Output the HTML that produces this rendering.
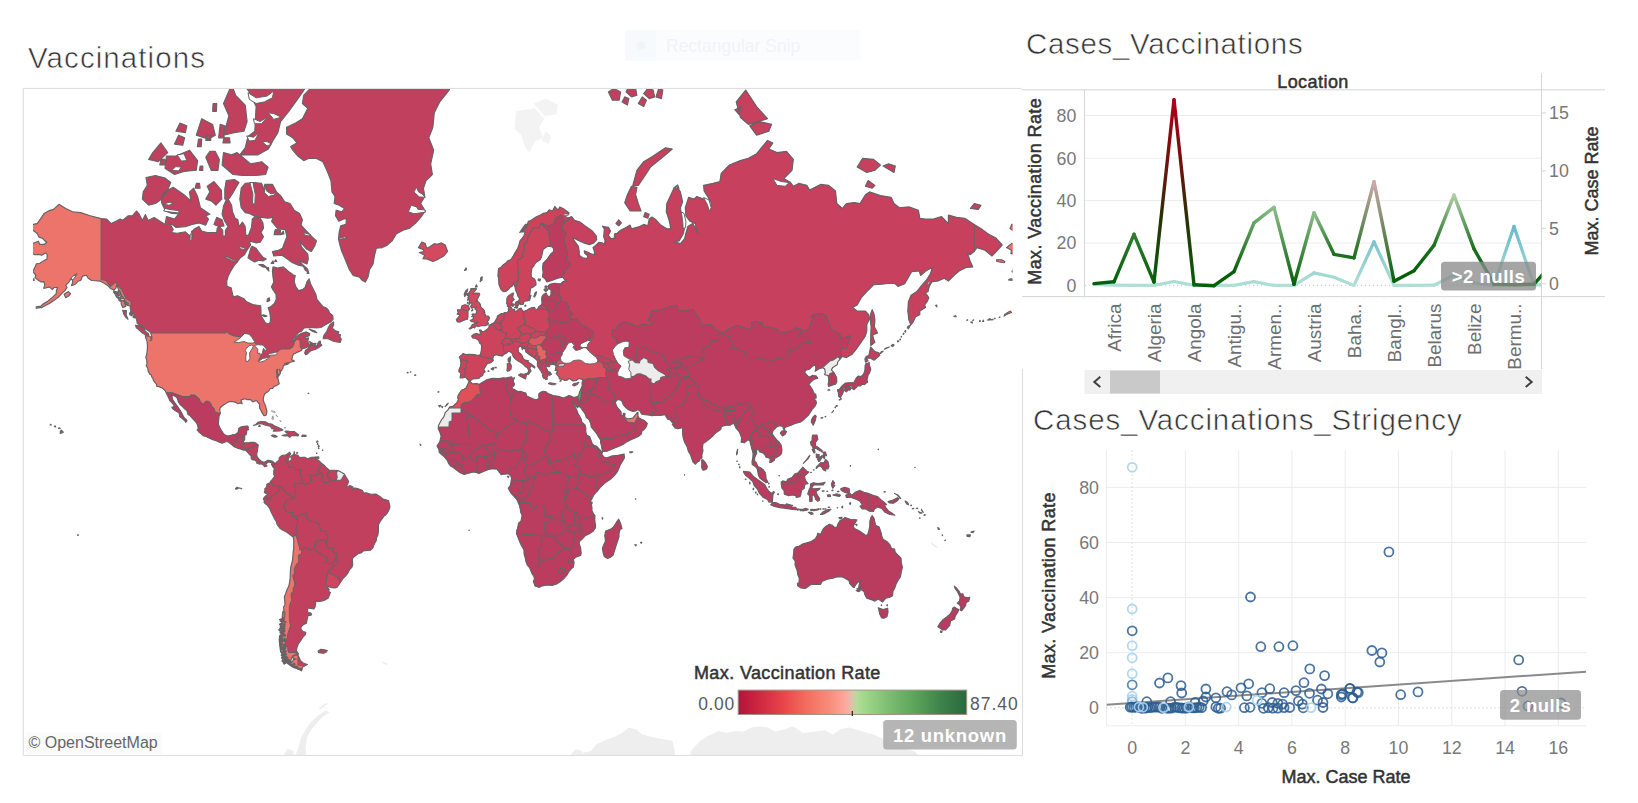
<!DOCTYPE html><html><head><meta charset="utf-8"><title>Dashboard</title><style>html,body{margin:0;padding:0;background:#fff;width:1638px;height:803px;overflow:hidden}</style></head><body><svg width="1638" height="803" viewBox="0 0 1638 803" style="display:block"><rect width="100%" height="100%" fill="#fff"/><defs><clipPath id="mapclip"><rect x="23.8" y="88.9" width="997.7" height="666.4"/></clipPath></defs><g clip-path="url(#mapclip)"><defs><clipPath id="landclip"><rect x="33" y="80" width="979.3" height="690"/></clipPath></defs><g clip-path="url(#landclip)"><path d="M514.5 128.5L521.3 135.2L525.4 147.8L529.5 152.6L534.9 141.6L543.1 137.8L539.0 127.2L544.4 118.7L534.9 108.2L525.4 109.7L515.9 111.3ZM533.6 103.5L544.4 115.8L556.7 114.3L558.0 105.1L545.8 98.6ZM541.7 140.4L548.5 144.1L551.2 136.5L545.8 131.2Z" fill="#f3f3f3" stroke="none"/><path d="M325.5 710.5L317.3 716.0L310.5 722.4L305.6 729.7L301.0 738.0L298.3 747.5L294.2 759.2L306.4 759.2L305.6 747.5L307.0 738.0L311.1 729.7L317.3 722.4L322.8 716.6L329.6 712.3ZM280.6 760.8L287.4 749.0L292.8 750.5L295.6 760.8ZM568.9 760.8L571.6 753.6L575.7 749.0L582.5 751.3L582.5 752.8L590.7 751.3L596.1 744.5L607.0 739.4L615.2 736.6L622.0 733.1L628.8 727.6L636.9 729.7L642.4 734.5L653.2 737.3L664.1 739.4L672.3 740.8L674.5 749.0L675.5 760.8L689.4 760.8L690.8 751.3L695.4 746.0L699.5 741.6L707.6 735.9L718.5 731.0L726.7 733.1L734.8 731.0L743.0 731.7L751.2 727.6L759.3 726.3L767.5 727.6L775.6 731.7L785.2 729.0L793.3 726.3L802.8 733.1L813.7 731.7L824.6 730.3L832.8 734.5L840.9 729.0L849.1 727.6L857.2 729.7L865.4 732.4L873.6 734.5L881.7 738.0L889.9 743.8L898.0 746.0L906.2 749.0L914.4 751.3L922.5 759.2L928.0 763.2L928.0 773.5L568.9 773.5ZM49.4 773.5L76.6 773.5L103.8 773.5L139.2 773.5L158.2 773.5L185.4 773.5L212.6 773.5L207.2 769.1L218.0 771.7L223.5 773.5ZM318.7 708.1L326.8 702.8L327.7 703.9L320.6 709.3Z" fill="#eeeeee" stroke="none"/><defs><path id="landp" d="M58.9 204.3L65.7 208.5L72.5 211.8L80.7 212.6L90.2 215.8L101.1 218.6L106.5 219.0L111.1 223.6L116.0 221.3L120.1 219.0L122.8 220.2L128.3 215.8L132.4 215.8L136.4 211.0L139.2 214.2L142.4 220.5L145.4 214.6L148.1 220.5L154.1 217.4L163.6 223.6L170.4 224.4L173.2 229.6L171.3 232.5L177.2 233.2L185.4 231.8L189.2 235.3L190.8 239.5L192.7 236.0L191.4 231.8L194.9 228.8L199.0 226.6L201.7 231.0L207.2 232.5L212.6 232.5L216.7 232.5L217.2 228.1L219.9 227.0L222.7 230.3L222.9 236.0L225.4 236.0L225.4 230.3L228.1 226.6L224.8 221.3L222.1 214.2L223.5 206.0L226.2 200.0L228.1 199.1L231.6 205.2L232.5 211.8L235.2 218.2L237.9 219.8L239.0 226.6L242.5 222.1L245.2 226.6L245.8 235.3L248.5 235.3L251.5 227.4L252.3 219.0L254.8 217.0L260.2 218.2L262.9 222.9L263.5 228.1L261.0 232.5L263.5 236.7L260.2 242.3L256.1 242.9L252.0 241.6L249.3 241.6L250.7 245.0L247.4 249.6L244.4 254.7L240.3 257.8L237.6 261.5L234.4 265.1L231.1 270.4L228.4 275.5L226.7 281.1L227.0 286.4L231.1 287.7L232.7 294.7L233.5 296.7L237.6 295.7L243.9 298.7L246.3 301.6L252.6 304.5L260.7 305.7L261.0 311.1L261.0 315.7L263.2 319.3L265.4 322.8L268.1 324.1L270.3 322.3L270.5 317.9L269.7 312.0L268.1 307.8L271.1 306.4L274.6 303.1L276.2 299.2L276.0 294.2L273.5 290.6L271.4 286.9L273.8 282.1L273.0 277.2L272.4 271.0L273.0 266.9L277.9 268.1L283.3 266.9L288.8 271.6L293.4 275.0L295.3 275.5L294.2 281.1L295.6 286.4L298.6 290.6L302.4 289.6L305.1 287.5L307.0 281.6L309.2 278.9L310.5 283.8L313.2 289.0L316.0 294.7L316.8 299.2L320.0 303.1L322.8 306.4L326.8 308.3L328.7 310.6L329.6 312.9L332.8 315.7L333.1 319.3L330.9 321.9L329.0 322.8L324.1 325.4L320.9 327.5L316.5 327.9L310.5 327.5L304.0 327.9L301.5 331.3L298.6 332.6L295.0 336.5L292.6 340.3L290.9 341.9L294.2 340.3L295.6 337.7L298.3 335.2L301.0 333.6L306.4 331.9L309.7 333.4L309.4 335.5L306.4 336.9L304.3 336.9L305.9 338.7L308.6 337.9L307.8 341.1L308.6 343.9L311.1 344.7L313.2 345.8L316.0 345.6L317.6 346.4L317.3 344.3L319.0 341.5L320.3 341.1L320.6 343.9L321.9 345.1L319.0 347.4L316.0 349.1L311.6 350.5L309.7 351.6L307.0 354.3L305.6 354.6L304.7 353.1L305.4 350.5L308.3 348.2L309.4 346.2L307.3 347.0L304.9 348.2L302.4 348.8L301.3 350.5L298.8 351.6L296.9 352.4L293.7 354.1L292.3 356.3L292.3 358.0L291.5 359.1L292.6 360.4L293.9 360.2L294.2 361.5L292.3 361.8L290.4 362.2L288.8 362.7L286.3 362.9L284.4 363.8L286.9 364.0L289.0 363.6L287.1 364.5L284.1 365.3L283.3 365.8L282.8 368.5L280.9 371.1L279.2 369.3L280.3 371.6L280.3 373.4L279.2 375.1L277.9 377.5L278.2 374.8L277.1 372.0L277.6 369.2L276.5 370.2L276.5 372.7L277.1 374.8L276.8 377.2L277.9 378.2L278.4 380.5L279.2 383.7L276.5 385.6L274.3 386.2L272.6 388.4L270.0 388.8L268.9 390.8L267.3 392.1L264.8 393.7L264.0 395.6L263.2 398.8L263.5 401.0L264.3 403.2L265.5 405.5L266.2 408.5L266.9 410.9L266.6 413.8L265.8 415.4L264.0 415.6L262.2 413.2L261.4 411.2L259.9 408.8L259.4 407.2L259.8 404.1L258.7 403.4L257.2 401.3L255.8 400.4L253.4 401.8L252.3 401.6L251.5 400.2L249.3 399.4L247.1 399.7L245.2 398.8L242.8 399.4L240.9 400.1L241.4 401.3L242.0 402.9L242.0 403.8L240.3 402.9L239.3 403.5L237.4 403.7L236.0 402.4L234.1 401.9L231.6 401.5L229.3 401.6L226.7 402.9L225.1 404.1L222.4 405.8L220.2 407.8L219.7 410.0L220.4 413.2L219.1 416.0L218.7 419.6L218.4 424.2L219.9 427.9L221.3 430.2L223.2 433.1L224.2 434.4L227.6 436.1L231.1 435.2L232.6 434.8L234.9 434.8L237.8 432.8L238.4 431.0L238.7 428.4L240.8 427.0L243.9 426.3L247.7 426.1L248.5 427.4L246.9 430.2L246.6 432.2L246.1 434.8L244.7 435.2L244.7 437.9L244.6 439.7L243.1 441.9L243.6 442.9L245.2 442.8L248.5 442.8L250.7 442.3L253.7 442.3L255.6 442.9L258.3 445.0L257.8 447.7L257.5 450.6L256.8 453.4L256.9 456.3L258.8 459.0L261.0 460.9L262.4 461.7L264.3 462.3L266.2 461.3L267.8 460.2L270.0 460.5L272.4 461.2L274.2 462.7L272.7 466.7L271.4 464.3L272.2 463.5L270.8 462.5L268.4 461.9L267.3 462.8L265.9 463.9L265.9 464.9L267.0 466.0L265.8 466.5L264.6 466.7L263.7 465.3L262.4 464.6L260.7 463.6L259.1 464.3L258.4 463.0L256.9 463.4L256.8 462.3L255.7 460.6L254.4 459.9L253.7 459.1L253.1 460.1L251.8 459.2L251.1 457.9L251.2 456.2L249.3 454.0L247.4 452.0L246.1 450.9L246.9 449.8L245.6 450.1L243.6 450.1L240.2 449.0L237.6 448.1L234.6 447.0L232.7 445.6L229.7 443.1L227.6 441.6L225.7 441.8L222.1 443.2L219.4 442.2L216.1 440.8L212.9 439.8L208.5 437.7L206.6 436.7L203.1 435.7L200.6 433.4L199.0 432.2L197.1 429.6L198.3 428.9L197.9 426.4L196.8 423.2L195.2 421.4L191.9 417.8L189.8 415.4L187.8 414.2L187.0 410.9L184.6 408.8L183.0 407.2L180.0 404.4L178.3 401.6L177.2 398.2L175.6 396.6L172.3 395.0L172.1 397.5L172.9 400.1L175.6 403.8L177.8 406.9L179.3 409.1L180.5 410.9L181.7 413.0L183.5 416.6L184.6 418.4L185.9 419.0L187.0 420.8L185.7 422.3L184.6 420.5L181.3 417.8L179.7 416.6L179.4 413.6L177.8 412.1L175.3 410.7L173.2 409.1L171.8 407.4L174.2 406.6L173.7 404.8L171.8 402.6L169.8 400.7L169.1 398.8L167.3 395.0L166.1 392.7L165.5 391.1L163.1 388.7L162.0 387.9L160.4 387.4L159.0 386.5L156.8 386.4L156.4 384.2L154.7 382.2L153.0 379.7L153.2 378.5L151.7 376.8L151.4 375.1L150.0 374.4L148.1 371.1L147.9 368.5L146.2 365.8L147.0 363.8L146.8 360.6L145.8 357.1L146.8 354.3L147.2 350.3L147.5 346.6L147.3 343.9L147.0 341.1L145.6 337.5L145.4 335.5L148.7 336.5L150.7 336.7L151.4 339.9L150.3 340.7L151.7 339.9L151.9 337.1L151.1 333.8L149.8 331.7L147.3 330.1L145.1 328.8L143.2 326.7L139.7 324.9L137.3 323.6L136.7 320.1L135.4 316.6L133.2 313.4L131.0 311.1L130.2 308.3L130.7 306.4L128.3 305.5L125.8 303.1L124.5 299.2L121.8 296.2L120.4 292.1L118.8 290.1L116.6 284.8L116.0 288.0L113.9 290.1L110.6 288.5L107.6 285.4L104.6 283.5L100.0 281.1L95.6 280.8L91.6 280.5L88.2 278.3L86.4 275.3L82.6 276.1L80.7 280.5L78.0 281.3L75.2 284.3L71.4 285.6L72.5 282.7L72.8 277.8L75.2 275.0L76.9 273.8L73.9 275.5L71.2 278.3L69.0 282.1L65.7 285.4L67.1 287.5L64.9 290.6L61.6 293.7L58.9 296.7L53.8 300.6L49.4 303.6L44.5 305.9L41.2 307.8L39.9 306.9L43.1 304.0L47.2 301.6L52.7 297.2L56.2 293.7L56.5 290.1L57.6 287.5L54.0 287.5L52.4 289.6L49.4 286.9L45.9 288.0L43.6 288.3L44.8 285.4L44.0 281.6L41.2 281.9L37.2 279.4L35.0 277.8L35.8 275.0L32.8 271.6L35.0 266.9L36.3 263.9L39.9 263.3L43.4 260.9L47.0 259.1L47.2 254.7L45.9 252.8L41.8 255.3L38.5 254.4L34.7 254.7L31.7 253.4L32.3 250.2L27.4 247.6L32.3 243.6L38.5 241.2L39.6 244.3L44.5 244.3L46.7 242.3L44.2 240.2L42.3 238.1L39.3 237.4L36.9 233.2L30.9 228.5L32.5 224.4L37.2 223.6L41.2 217.8L44.2 213.4L49.4 210.6L53.5 209.4ZM274.2 462.7L275.6 464.5L275.8 462.8L277.3 461.4L279.0 460.1L279.2 457.9L281.0 456.1L282.8 455.4L286.3 454.7L289.7 452.2L290.7 454.0L289.0 455.4L289.8 456.5L291.5 455.9L293.4 454.5L294.2 452.9L294.9 454.5L298.0 455.4L299.6 457.6L302.5 457.3L304.9 457.3L307.3 458.7L309.4 458.1L311.6 457.2L316.2 457.0L314.3 458.4L317.0 459.5L319.2 460.9L321.4 463.1L324.7 465.8L326.4 467.8L329.0 470.0L334.5 470.2L338.0 470.6L342.3 472.8L344.5 474.3L345.9 476.8L348.6 481.4L347.5 484.7L345.7 486.3L347.8 486.8L350.0 485.5L353.0 487.1L352.7 490.1L354.3 488.1L356.8 488.2L359.5 489.3L362.2 490.4L363.8 493.1L366.3 492.8L370.9 494.2L375.8 494.1L379.9 496.4L383.1 499.1L386.7 500.1L388.6 500.5L388.9 502.1L389.9 505.8L389.7 508.3L387.5 512.7L385.6 515.0L383.8 516.3L381.8 519.2L379.9 522.0L378.5 524.8L378.4 529.3L378.4 531.7L377.8 535.4L376.6 537.5L376.3 540.8L375.0 542.7L373.2 546.5L373.1 547.7L370.4 550.3L367.1 550.5L363.3 550.9L361.1 553.0L358.7 553.4L355.4 555.7L352.7 558.1L352.4 560.2L352.7 564.5L352.0 567.2L349.4 569.9L347.8 573.2L345.3 576.3L342.9 578.7L339.4 583.9L337.3 586.9L335.1 587.9L331.7 587.7L327.2 586.2L325.6 584.6L325.9 586.7L328.2 588.0L329.2 589.5L328.6 591.4L330.4 592.6L328.1 598.2L324.8 600.1L321.4 601.1L317.3 601.7L315.1 601.0L315.7 603.4L315.1 607.0L313.8 609.0L310.5 608.4L307.8 607.9L307.5 610.6L308.1 612.8L310.5 612.8L311.6 614.2L310.8 615.5L308.1 615.4L307.7 617.2L307.0 620.2L306.4 623.3L303.7 624.4L301.0 627.0L301.0 629.3L302.9 631.5L305.8 632.3L305.4 634.5L302.4 638.0L300.5 640.9L298.3 643.8L296.9 647.7L296.4 650.7L298.6 654.0L295.6 654.7L293.1 655.6L291.8 657.6L290.7 661.0L287.4 659.2L285.0 656.9L282.8 655.1L280.6 651.6L279.8 645.9L279.2 639.6L279.8 635.5L282.0 633.9L280.6 631.5L278.8 629.9L280.9 626.8L281.7 622.1L282.0 618.3L282.5 616.8L283.0 612.4L283.9 610.9L283.6 607.0L285.0 604.7L284.7 599.9L284.3 596.8L285.6 593.9L286.6 590.7L288.8 586.1L289.7 581.6L290.1 578.3L290.4 571.7L290.7 567.2L291.9 562.8L292.4 560.6L292.8 557.8L293.1 552.5L293.7 548.0L293.8 542.4L293.4 537.4L290.5 535.1L286.9 532.2L282.6 530.0L280.2 528.6L277.1 524.5L276.5 522.0L274.8 519.3L273.5 516.7L271.9 513.6L270.8 511.2L269.7 508.4L268.2 506.5L267.1 505.0L264.8 503.2L263.9 502.1L264.7 501.6L264.0 500.2L263.4 499.0L264.1 497.5L265.8 495.8L267.0 495.0L267.3 492.8L265.9 493.5L264.3 492.3L265.0 490.4L264.7 489.0L265.9 487.9L266.9 486.1L266.7 484.5L268.0 483.6L270.1 482.8L270.4 481.4L272.4 479.4L274.9 475.7L273.8 474.9L273.7 471.3L274.1 469.4L274.2 468.0L272.7 466.7ZM298.0 655.3L299.1 657.4L300.5 660.6L303.7 663.4L307.4 664.5L303.7 666.4L302.4 667.6L301.5 670.9L298.8 669.0L295.6 668.3L292.8 667.1L288.8 664.3L285.2 661.5L282.0 656.9L284.4 656.5L287.1 659.7L290.1 662.0L292.6 661.5L293.4 659.2L296.1 659.2L293.1 658.3L293.1 656.0L296.1 654.9ZM318.1 651.1L320.6 649.4L323.3 649.6L327.4 650.5L325.8 652.5L323.6 653.3L320.6 652.9L318.7 652.7ZM365.2 282.1L361.7 280.0L359.5 277.2L353.2 275.5L349.4 269.8L347.0 263.9L344.0 256.6L341.8 251.5L339.9 245.0L338.5 238.8L339.1 232.5L340.7 225.9L345.9 224.4L346.4 219.0L343.7 219.0L338.8 221.3L335.5 215.8L336.1 210.2L341.8 211.8L344.5 208.5L339.1 205.2L334.2 203.5L335.0 196.5L332.0 191.9L330.9 180.5L326.8 170.3L322.8 161.7L316.0 158.3L309.2 158.3L303.7 160.6L297.7 156.0L292.8 150.2L290.7 146.6L296.9 142.9L292.8 137.8L286.6 133.9L286.6 127.2L295.6 123.0L302.4 118.7L307.8 108.2L302.4 103.5L303.7 95.3L311.9 86.6L318.7 71.7L343.2 61.6L370.4 44.0L397.6 36.8L419.3 55.2L430.2 71.7L452.0 81.2L449.2 90.1L439.7 101.9L434.3 112.8L432.9 127.2L428.8 137.8L433.7 150.2L430.7 163.9L432.4 174.5L426.1 180.5L423.4 188.2L424.8 196.5L420.7 203.5L425.3 211.0L420.7 217.4L415.2 223.6L409.8 228.1L403.0 230.3L396.2 233.9L392.1 240.9L386.7 245.6L382.3 247.6L376.3 248.3L374.4 256.0L373.1 263.9L369.5 269.8L368.2 276.7ZM422.9 258.8L427.5 259.1L432.9 261.5L438.4 259.1L443.8 256.0L447.6 251.5L445.2 245.0L441.6 242.9L437.0 244.3L434.3 243.6L429.4 247.0L426.7 248.3L425.3 243.6L422.0 241.9L418.5 247.6L423.4 249.6L423.9 251.5L419.3 252.5L424.8 255.3L422.9 258.8ZM308.6 272.1L305.4 270.4L303.4 266.3L298.3 265.1L291.5 262.1L287.4 259.1L282.0 255.3L273.8 256.0L272.4 251.5L278.4 250.2L282.5 248.3L284.4 242.9L286.9 236.7L285.2 229.6L277.9 228.8L271.6 221.3L273.3 217.4L267.8 218.2L261.6 217.4L254.8 216.2L249.3 213.4L245.2 212.6L241.2 207.7L239.8 199.1L241.2 188.2L245.2 183.4L253.4 182.5L261.6 183.4L264.3 190.1L268.4 193.8L264.8 184.4L272.4 184.4L276.5 191.9L280.6 195.6L284.7 201.7L290.1 203.5L294.2 210.2L299.6 213.4L302.4 219.8L301.0 225.1L306.4 231.0L311.9 236.7L316.5 240.9L314.6 246.3L311.3 251.5L306.4 248.9L301.0 242.9L299.6 240.9L301.5 247.0L307.8 254.1L308.3 259.1L307.0 263.9L302.4 262.1L298.0 259.4L302.4 264.5L307.3 268.7ZM252.0 246.3L256.1 248.3L258.8 252.2L262.9 257.2L266.2 259.1L262.9 260.9L258.8 260.3L254.8 262.1L250.7 259.7L248.0 257.8L249.3 253.4L250.7 248.3ZM165.5 211.0L171.8 213.4L178.6 213.8L174.5 219.0L166.4 216.6L165.3 223.6L171.8 224.4L175.9 227.4L185.4 226.6L192.2 224.4L199.0 222.9L205.8 225.1L208.5 219.0L205.8 215.8L209.9 214.2L200.4 207.7L197.6 196.5L193.6 188.2L189.5 191.9L190.8 200.9L184.0 194.7L178.6 191.0L173.2 187.3L166.4 191.0L162.3 194.7L161.5 202.6ZM142.4 199.1L148.7 205.2L155.5 203.5L160.4 200.0L167.7 190.1L170.7 182.5L165.0 178.0L155.5 175.5L146.0 177.5L147.3 185.4L143.2 191.9ZM205.8 199.1L211.2 200.9L215.9 205.2L221.8 199.1L221.3 190.1L214.0 181.5L207.2 186.3L209.9 191.9ZM224.8 199.1L229.5 198.2L233.0 192.8L239.0 182.5L234.4 179.5L226.2 180.5L224.8 189.1ZM214.0 224.4L218.6 226.6L224.0 225.9L222.1 219.8L216.7 217.4ZM222.1 165.0L233.0 174.5L242.5 175.5L256.1 175.5L265.6 174.5L268.1 167.1L261.6 161.7L250.7 163.9L241.2 156.0L237.1 152.6L231.6 154.9L223.5 152.6ZM205.8 157.2L211.2 170.3L218.0 170.3L219.4 159.4L215.3 151.4L209.9 151.4ZM165.0 168.2L174.5 174.5L184.0 171.4L196.3 170.3L197.6 160.6L189.5 150.2L181.3 153.7L175.9 156.0L166.4 156.0ZM148.7 159.4L158.2 161.7L167.7 152.6L160.9 142.9L152.8 152.6ZM223.5 135.2L234.4 132.6L243.9 131.2L247.1 121.6L245.2 105.1L235.7 95.3L231.6 84.8L223.5 103.5L228.9 115.8ZM239.8 154.9L248.0 154.9L257.5 154.9L268.4 149.0L273.0 140.4L277.9 132.6L280.6 121.6L288.8 111.3L296.9 100.2L305.1 88.4L316.0 67.7L307.8 50.8L272.4 46.3L245.2 61.6L239.8 79.3L249.3 91.9L256.1 106.6L255.3 121.6L254.8 131.2L248.0 136.5L245.2 147.8ZM196.3 135.2L208.5 139.1L215.3 135.2L212.6 124.4L201.7 118.7ZM323.3 338.7L328.2 338.7L332.3 340.7L334.2 341.5L337.2 341.9L340.2 342.5L341.3 339.1L339.9 337.1L340.4 334.6L338.0 334.2L338.8 331.7L335.5 330.9L333.4 329.2L332.3 327.9L333.6 324.9L333.6 321.9L330.1 324.5L328.2 327.9L326.8 331.3L324.1 335.0L323.3 337.5ZM309.4 341.5L313.2 343.5L316.0 343.3L314.6 345.1L311.1 344.3ZM309.2 329.2L314.6 330.7L316.8 332.6L313.2 331.7ZM135.4 325.4L139.2 325.8L143.2 327.9L145.1 330.9L148.4 333.8L149.0 335.5L145.4 334.8L142.4 333.0L139.7 330.5L136.4 327.9ZM122.6 310.2L126.4 310.6L126.1 314.8L128.0 319.3L125.6 317.0L123.7 313.9ZM64.1 294.2L68.4 291.6L70.6 293.7L69.0 295.7L65.7 297.7ZM121.2 300.2L124.2 301.6L125.8 306.4L122.8 307.4L121.2 304.0ZM113.6 291.1L117.4 292.1L118.5 298.7L116.3 296.7ZM36.1 308.3L40.2 307.8L39.6 306.4L36.3 306.7ZM27.9 314.3L32.3 312.5L31.2 311.1L27.6 312.9ZM29.3 280.0L34.2 280.5L33.9 278.9L30.9 278.9ZM17.6 261.5L24.9 262.7L25.7 261.5L22.2 259.7L17.3 259.7ZM261.6 315.2L265.1 316.6L267.0 316.1L263.5 314.8ZM258.8 264.5L262.9 266.9L267.0 267.5L262.9 264.5ZM266.2 268.1L268.9 271.0L268.4 267.5ZM253.5 425.4L255.3 424.9L257.8 422.4L261.0 421.5L265.4 421.7L268.4 423.5L271.6 424.1L274.6 426.0L277.9 427.4L280.9 428.7L282.9 430.0L279.8 431.0L273.3 431.2L274.8 429.3L271.9 428.7L270.3 426.3L266.2 425.5L262.9 424.3L259.4 423.5L256.4 424.8ZM282.1 435.5L285.0 435.9L287.9 435.9L289.6 437.2L291.5 435.8L294.2 435.4L298.0 435.9L298.7 434.7L296.4 433.1L294.2 431.6L289.6 431.3L286.6 431.0L285.0 431.6L286.6 432.8L287.7 434.8L284.7 434.9ZM271.5 435.7L274.6 437.2L277.3 436.8L275.4 435.4L272.7 435.1ZM301.8 436.5L305.9 436.5L306.0 435.4L302.1 435.1ZM316.2 458.7L318.7 458.5L318.8 456.7L316.5 457.0ZM174.5 144.1L182.7 145.3L184.6 137.8L178.6 135.2ZM175.9 131.2L185.4 132.6L186.8 125.8L180.0 123.0ZM218.6 137.8L224.0 137.8L224.8 125.8L220.2 124.4ZM212.6 111.3L216.4 111.3L216.7 103.5L213.1 103.5ZM197.4 146.6L201.2 146.6L201.7 139.1L198.5 139.1ZM205.8 140.4L210.7 140.4L211.0 135.2L206.6 135.2ZM222.9 142.9L230.0 142.9L229.5 137.8L224.0 137.8ZM159.8 165.0L164.7 165.0L164.7 159.4L160.9 159.4ZM199.5 170.3L202.8 170.3L202.8 166.1L200.1 166.1ZM195.2 188.2L200.1 188.2L199.5 183.4L196.3 183.4ZM274.1 234.6L280.1 234.6L280.6 230.3L275.2 229.6ZM280.6 234.6L283.9 233.9L283.3 231.0ZM271.1 263.3L273.8 263.3L273.0 260.9ZM274.6 261.5L276.8 261.5L275.7 259.7ZM307.0 273.3L308.9 273.3L308.1 271.6ZM267.0 301.6L269.7 300.6L269.2 297.7L267.3 299.2ZM113.6 292.1L117.4 293.7L117.7 295.2L115.5 294.7ZM118.2 290.6L120.1 292.1L120.1 295.7L118.5 295.2ZM120.4 296.7L122.8 296.7L123.1 298.7L120.7 298.7ZM118.8 297.2L120.1 297.2L120.4 301.1L119.0 300.6ZM126.1 302.1L128.3 303.1L127.7 305.5L126.1 304.5ZM123.4 300.2L125.0 300.6L124.7 302.1ZM130.5 311.6L132.1 312.9L132.4 314.8L131.0 313.9ZM129.4 312.9L131.0 314.3L131.5 315.7L129.9 314.8ZM132.9 315.7L134.5 316.1L134.8 317.9L133.2 317.5ZM235.4 488.7L237.1 487.1L237.6 488.7L236.3 489.2ZM238.2 487.7L239.3 487.7L239.0 488.5ZM240.6 488.2L241.7 488.5L241.2 488.9ZM316.5 442.2L318.1 441.6L317.3 440.8ZM318.1 446.7L319.2 446.4L318.7 445.3ZM317.3 444.5L318.0 444.2L317.6 443.3ZM318.4 448.7L319.0 448.4L318.7 447.6ZM322.4 450.5L322.9 450.2L322.5 449.8ZM316.5 453.4L317.0 453.1L316.8 452.9ZM296.4 453.1L297.7 453.1L297.2 452.3ZM293.9 452.3L294.6 452.2L294.2 451.7ZM308.1 393.5L308.8 393.4L308.5 393.1ZM258.6 426.4L260.2 426.4L259.7 425.2ZM248.0 429.9L248.6 429.7L248.4 429.2ZM282.8 611.7L285.0 612.0L284.7 617.6L282.2 617.2ZM280.1 638.8L282.2 638.8L282.0 643.8L279.8 643.4ZM279.5 619.6L280.6 619.1L281.7 619.6L280.6 620.1ZM282.1 619.3L282.8 618.5L283.5 619.3L282.8 620.0ZM283.0 619.2L283.8 618.7L284.5 619.2L283.8 619.7ZM280.0 620.9L280.8 620.3L281.5 620.9L280.8 621.6ZM281.9 620.8L282.9 620.1L284.0 620.8L282.9 621.5ZM283.8 622.1L285.1 621.5L286.3 622.1L285.1 622.8ZM279.5 624.4L280.4 623.5L281.3 624.4L280.4 625.4ZM281.2 623.7L282.3 623.0L283.5 623.7L282.3 624.4ZM283.8 624.5L284.5 623.9L285.2 624.5L284.5 625.1ZM280.2 626.3L281.1 625.5L282.0 626.3L281.1 627.1ZM281.5 626.5L282.7 625.6L283.9 626.5L282.7 627.4ZM283.0 626.1L284.1 625.1L285.1 626.1L284.1 627.1ZM279.8 629.0L281.2 628.4L282.5 629.0L281.2 629.5ZM281.9 628.2L282.7 627.5L283.5 628.2L282.7 629.0ZM282.6 628.4L283.8 627.5L285.0 628.4L283.8 629.2ZM280.2 631.4L281.4 630.5L282.5 631.4L281.4 632.2ZM281.6 631.2L282.9 630.1L284.1 631.2L282.9 632.2ZM283.6 630.8L284.4 629.9L285.1 630.8L284.4 631.7ZM279.8 632.8L281.1 632.1L282.3 632.8L281.1 633.5ZM281.9 633.3L282.6 632.5L283.3 633.3L282.6 634.1ZM283.2 634.2L283.9 633.2L284.7 634.2L283.9 635.2ZM279.4 636.5L280.4 635.5L281.3 636.5L280.4 637.6ZM281.1 636.2L282.2 635.1L283.3 636.2L282.2 637.2ZM284.0 635.5L284.8 634.7L285.7 635.5L284.8 636.2ZM279.3 638.0L280.7 637.4L282.0 638.0L280.7 638.6ZM281.5 639.1L282.3 638.3L283.2 639.1L282.3 639.9ZM283.8 639.0L284.5 638.3L285.2 639.0L284.5 639.8ZM279.4 641.1L280.7 640.1L282.0 641.1L280.7 642.0ZM281.7 641.0L282.8 640.5L283.9 641.0L282.8 641.6ZM283.7 640.7L285.0 639.7L286.2 640.7L285.0 641.7ZM280.0 644.0L280.7 643.0L281.5 644.0L280.7 644.9ZM281.4 644.5L282.2 643.9L283.0 644.5L282.2 645.2ZM283.5 644.6L284.2 643.9L284.9 644.6L284.2 645.2ZM280.1 646.7L280.8 645.6L281.4 646.7L280.8 647.8ZM282.5 647.1L283.3 646.3L284.2 647.1L283.3 647.8ZM283.4 647.1L284.7 645.9L285.9 647.1L284.7 648.3ZM280.9 649.2L281.7 648.6L282.4 649.2L281.7 649.8ZM282.2 649.5L283.4 648.9L284.7 649.5L283.4 650.2ZM283.6 648.3L284.6 647.7L285.6 648.3L284.6 649.0ZM281.1 652.7L282.2 651.5L283.2 652.7L282.2 653.9ZM283.7 651.5L284.5 650.7L285.4 651.5L284.5 652.3ZM284.2 651.4L285.2 650.3L286.3 651.4L285.2 652.4ZM281.1 655.1L282.3 653.9L283.6 655.1L282.3 656.3ZM283.7 654.1L285.0 653.0L286.2 654.1L285.0 655.1ZM284.8 654.5L285.7 654.0L286.6 654.5L285.7 655.1ZM281.5 657.8L282.3 656.7L283.2 657.8L282.3 658.8ZM284.2 657.5L285.5 656.2L286.8 657.5L285.5 658.7ZM286.3 657.6L287.1 656.9L288.0 657.6L287.1 658.3ZM281.9 660.8L283.0 659.6L284.1 660.8L283.0 662.0ZM284.7 660.3L285.8 659.1L286.9 660.3L285.8 661.4ZM285.1 659.9L286.4 658.8L287.7 659.9L286.4 661.0ZM283.4 663.1L284.2 662.0L285.0 663.1L284.2 664.2ZM284.2 662.5L285.5 661.7L286.8 662.5L285.5 663.4ZM286.0 662.2L287.2 661.5L288.4 662.2L287.2 662.9ZM282.1 655.1L283.3 654.1L284.5 655.1L283.3 656.1ZM283.6 657.8L284.4 656.7L285.2 657.8L284.4 658.8ZM285.4 659.4L286.1 658.6L286.8 659.4L286.1 660.3ZM285.8 661.3L286.9 660.5L288.0 661.3L286.9 662.0ZM288.0 662.6L289.0 661.4L290.1 662.6L289.0 663.7ZM289.0 664.4L289.9 663.7L290.9 664.4L289.9 665.2ZM290.9 665.4L291.6 664.4L292.3 665.4L291.6 666.5ZM292.4 665.9L293.4 664.8L294.3 665.9L293.4 667.1ZM294.1 667.0L295.0 666.1L295.9 667.0L295.0 667.9ZM295.8 667.5L296.9 666.2L298.1 667.5L296.9 668.7ZM297.4 668.8L298.2 668.0L299.0 668.8L298.2 669.5ZM298.9 669.1L300.0 668.1L301.2 669.1L300.0 670.1ZM300.8 669.5L301.5 668.6L302.2 669.5L301.5 670.4ZM287.2 660.1L288.4 659.2L289.7 660.1L288.4 661.1ZM289.6 662.3L290.7 661.5L291.8 662.3L290.7 663.2ZM292.8 664.4L294.0 663.2L295.2 664.4L294.0 665.7ZM284.0 656.7L284.7 655.9L285.5 656.7L284.7 657.4ZM281.4 652.7L282.4 651.7L283.4 652.7L282.4 653.7ZM280.2 649.2L281.0 648.2L281.7 649.2L281.0 650.3ZM279.6 645.6L280.4 644.7L281.2 645.6L280.4 646.4ZM281.9 647.9L282.7 646.7L283.6 647.9L282.7 649.1ZM468.6 381.9L470.2 381.6L472.6 383.9L476.7 383.6L479.4 384.2L483.0 381.9L487.3 379.5L492.8 378.3L498.5 378.5L503.4 377.8L505.8 378.0L509.1 377.2L511.5 376.8L512.6 378.5L514.5 377.7L513.4 379.9L513.4 381.9L514.5 383.9L514.0 385.6L512.1 387.2L512.1 388.5L514.5 389.5L515.9 390.5L518.1 391.6L520.5 391.4L523.5 392.4L525.9 393.1L526.8 395.9L529.5 397.2L533.6 399.1L536.8 399.7L539.0 397.9L538.7 395.3L539.0 393.4L541.2 392.1L543.6 391.3L546.1 391.8L547.7 393.4L549.9 394.2L553.1 395.6L558.6 396.4L563.5 398.0L565.9 396.9L568.9 395.6L571.6 396.3L572.7 397.1L574.4 397.2L577.6 396.6L579.5 402.3L578.2 406.6L577.6 407.7L576.0 406.0L574.4 403.5L573.1 400.9L572.7 402.3L574.1 405.4L576.5 409.4L578.2 413.9L581.2 419.0L581.7 422.0L585.0 424.9L585.8 427.9L585.8 431.9L586.6 435.1L589.6 436.5L591.2 440.8L592.0 443.3L593.9 445.3L596.7 446.4L600.7 450.6L602.4 452.0L601.8 454.5L604.3 457.3L607.0 457.9L612.4 455.9L617.9 455.4L624.1 454.0L624.4 457.9L622.8 460.6L620.1 465.3L617.6 471.3L614.9 474.9L611.1 478.7L607.8 480.9L604.3 483.6L600.2 487.4L597.5 490.9L595.8 492.6L593.7 495.0L592.6 497.5L591.0 500.2L590.1 502.6L591.5 504.8L592.0 508.1L592.0 510.9L593.9 514.5L595.0 515.6L594.8 519.2L595.0 522.0L595.6 526.2L595.3 528.1L593.1 531.2L589.3 533.8L585.2 535.8L582.5 538.7L579.5 541.3L579.0 543.3L580.6 547.7L581.2 553.3L580.6 555.4L576.3 556.9L573.3 559.4L574.1 562.3L573.3 567.2L571.9 568.2L568.9 571.6L566.7 575.4L563.5 578.9L560.5 581.5L556.7 583.9L554.2 584.7L552.1 585.4L548.5 584.9L544.7 585.4L541.2 586.2L539.0 587.4L536.8 586.4L534.9 585.9L534.6 584.4L533.3 581.5L534.4 579.2L534.1 577.0L531.7 572.9L529.5 567.5L527.3 565.1L525.9 561.4L525.1 557.5L524.0 553.6L524.0 550.3L522.4 547.1L520.8 544.2L518.6 539.0L516.6 533.9L516.7 530.4L517.6 528.1L518.6 523.1L521.0 520.9L522.1 515.6L520.5 511.7L520.5 510.3L519.4 505.1L518.2 502.9L517.8 501.4L516.8 499.4L514.5 496.9L510.7 492.8L508.3 488.2L510.2 485.5L510.7 483.6L511.3 480.0L511.5 478.4L510.7 475.7L508.8 474.0L507.2 473.9L503.6 474.3L501.2 474.6L499.3 472.1L496.8 469.1L493.8 468.9L491.1 469.0L487.9 469.7L484.1 471.2L478.9 473.4L476.2 472.4L473.7 472.0L468.3 473.2L464.2 474.5L460.1 472.7L455.2 469.1L453.3 467.5L450.6 466.1L448.4 463.1L447.3 460.3L444.9 457.6L443.8 456.2L441.1 454.0L439.2 452.3L438.9 449.5L437.0 445.9L439.7 442.2L441.1 436.2L440.0 432.5L438.2 428.4L438.6 425.2L441.4 419.9L443.8 416.9L445.2 412.7L448.2 409.7L449.5 407.1L453.3 406.0L456.9 402.6L458.5 399.4L457.8 398.5L457.9 395.9L459.4 393.4L461.5 390.3L463.9 389.2L466.1 387.9L467.9 383.9ZM618.7 519.2L620.6 523.4L622.0 528.7L620.1 529.3L619.0 533.8L619.0 536.9L617.3 541.8L615.2 548.5L613.0 555.4L610.5 557.2L607.5 558.4L604.3 556.6L603.2 553.0L602.4 548.3L604.0 544.2L605.4 541.3L604.8 535.5L605.6 531.0L608.4 530.1L610.8 529.0L613.3 527.3L614.9 524.8L616.0 523.1L617.6 520.6ZM629.6 451.9L632.8 451.9L631.8 452.6L630.1 452.6ZM591.2 502.1L592.2 502.6L591.9 504.0L591.2 503.5ZM602.1 517.5L602.9 518.3L602.4 519.2ZM634.7 544.7L636.4 544.7L635.8 545.9ZM640.5 542.4L641.8 542.4L641.3 543.3ZM438.6 405.8L440.8 405.2L439.7 406.9ZM441.6 406.6L442.7 406.6L442.4 407.7ZM445.2 406.6L447.1 404.8L448.2 403.2L447.1 404.1ZM419.9 444.2L421.0 445.0L420.7 445.3ZM507.4 476.2L508.9 476.2L508.3 477.6ZM470.0 380.7L469.4 381.2L467.5 379.5L465.7 377.2L463.1 377.8L460.1 377.8L460.7 374.4L460.4 372.7L458.8 371.6L459.0 369.5L460.4 366.7L460.9 363.3L460.4 359.5L459.3 356.9L461.8 355.0L463.1 353.5L465.6 354.5L469.1 354.3L474.3 354.6L476.4 355.0L479.4 355.2L480.5 354.3L481.3 350.3L481.6 346.6L481.3 344.5L479.7 343.1L478.6 340.3L475.4 338.3L472.6 337.9L471.7 335.9L473.7 334.2L476.4 333.6L479.2 334.4L480.5 334.4L480.2 332.1L479.4 330.1L481.2 330.1L481.6 331.5L483.8 331.7L484.9 330.9L487.6 329.0L489.0 327.5L489.0 325.2L491.1 324.3L493.3 323.0L494.4 322.6L495.8 320.1L497.1 317.9L497.5 315.9L499.3 314.8L501.5 313.6L503.6 313.9L504.2 312.5L506.6 312.9L508.0 311.6L508.8 310.6L508.3 309.2L508.8 306.9L507.4 306.4L507.4 304.0L506.6 303.8L506.8 301.6L506.9 298.2L508.0 296.2L511.7 293.7L513.4 292.9L513.3 294.4L512.6 297.2L514.2 299.7L512.3 300.9L511.5 304.0L510.4 306.4L511.5 307.4L512.1 309.2L514.8 309.2L514.2 311.3L515.9 311.3L517.5 310.4L518.6 309.0L521.0 308.1L521.9 309.7L523.4 311.6L526.8 310.2L529.5 308.5L532.3 307.6L534.6 307.4L535.3 309.2L537.6 309.2L538.7 306.7L541.7 304.5L542.0 303.1L541.7 299.2L541.9 296.7L543.2 294.7L546.1 292.9L547.7 296.2L550.2 296.4L551.0 294.2L551.0 290.1L548.5 288.5L548.5 285.4L550.0 284.3L551.9 283.8L554.8 283.2L556.7 283.5L560.8 283.8L561.8 282.7L563.5 281.3L566.7 281.3L564.8 280.0L562.7 277.2L558.6 278.0L554.4 279.4L552.5 280.2L547.0 282.0L545.0 278.9L542.5 276.7L543.1 272.1L542.5 268.1L543.1 263.3L547.4 258.8L551.2 253.4L553.7 251.5L553.4 248.3L551.4 246.6L547.7 246.3L545.0 248.0L543.1 249.6L542.3 253.4L541.2 257.8L540.0 259.7L535.6 262.7L533.6 266.3L531.9 268.1L531.4 271.6L531.1 273.8L531.4 277.2L534.6 278.9L536.0 282.4L536.0 284.8L533.4 286.9L530.6 288.3L530.0 292.9L529.5 295.4L529.2 298.4L528.1 300.6L527.0 300.9L524.6 301.1L523.5 302.8L523.6 304.0L522.1 304.5L520.4 304.7L519.6 303.8L520.0 303.1L519.1 301.4L518.9 300.2L519.6 298.4L517.9 296.2L517.0 293.2L515.6 290.1L514.9 286.7L514.2 285.4L513.7 281.9L513.2 284.3L511.9 286.4L510.2 287.2L508.5 289.3L506.4 291.1L503.8 291.7L502.6 291.1L500.9 289.3L499.8 286.7L498.9 284.3L498.7 278.9L497.9 275.5L498.2 272.1L498.5 268.7L501.2 266.9L503.6 264.5L505.5 263.3L507.7 260.9L510.7 259.7L513.2 256.0L515.1 252.5L517.8 248.3L518.9 245.0L520.0 240.9L523.8 236.0L525.4 231.8L520.5 231.8L524.0 228.8L526.8 225.9L528.4 221.3L530.8 220.5L536.0 217.0L540.4 215.0L543.1 213.4L547.2 212.6L549.1 209.8L552.6 211.0L554.8 206.4L558.0 210.2L559.9 206.9L563.8 208.9L569.2 213.0L565.5 215.4L566.2 217.8L568.9 217.8L571.6 216.6L574.4 220.2L580.1 222.1L585.2 225.9L592.0 230.7L596.4 236.0L596.7 239.5L593.4 243.3L589.3 244.6L583.9 242.9L577.9 240.2L572.7 237.4L574.4 240.9L578.4 246.3L579.3 251.8L579.3 255.3L582.5 257.8L586.6 258.5L588.0 256.0L584.7 253.4L584.2 250.9L588.0 252.2L592.6 254.4L594.8 254.4L594.2 250.9L592.9 247.6L596.1 245.0L598.8 242.3L602.4 242.9L604.3 244.3L605.1 240.9L603.7 236.7L604.3 228.8L602.4 226.2L608.4 227.4L610.5 231.0L608.4 235.3L611.1 238.8L614.3 238.1L614.6 233.9L617.1 233.2L620.6 230.3L626.0 227.4L630.1 225.1L631.5 228.8L634.2 228.1L639.6 226.6L643.7 224.4L647.8 225.9L649.2 219.0L651.9 217.0L656.0 219.8L660.0 224.4L666.8 228.8L670.9 228.8L669.0 219.8L666.3 211.8L666.8 203.5L670.9 194.7L673.6 189.1L676.4 186.3L680.4 191.9L682.6 201.7L680.4 207.7L682.1 219.8L684.8 227.4L683.2 233.9L679.1 240.9L673.6 241.6L680.4 243.6L684.5 238.8L685.9 233.2L687.8 226.6L692.7 223.6L695.4 228.1L698.1 233.9L696.2 228.8L695.4 223.6L690.0 221.3L685.9 215.8L685.3 207.7L688.6 197.4L694.0 199.1L696.8 196.5L703.6 199.1L709.0 201.7L711.2 208.5L711.2 202.6L707.6 196.5L704.1 191.0L703.6 185.4L713.1 183.4L719.9 181.5L721.2 173.4L729.4 165.0L740.3 160.6L748.4 158.3L756.6 153.7L767.5 140.4L772.9 142.9L768.8 149.0L777.0 152.6L786.5 151.4L793.3 159.4L792.0 170.3L783.8 178.5L790.6 182.5L793.3 186.3L798.8 183.4L806.9 185.4L809.6 190.1L820.5 184.4L828.7 185.4L835.5 191.0L836.8 203.5L842.3 208.5L846.4 203.5L854.5 202.6L860.0 203.5L865.4 194.7L869.5 191.9L880.4 195.6L891.2 197.4L894.0 203.5L899.4 207.7L908.9 206.9L918.4 210.2L919.8 218.2L925.2 219.0L933.4 219.0L941.6 216.6L948.4 223.6L948.4 215.0L956.5 217.4L964.7 218.2L974.2 224.4L982.4 229.6L989.2 234.6L996.0 238.1L1002.2 245.0L998.7 248.9L994.6 253.4L991.9 256.0L985.1 250.2L976.9 247.6L974.2 251.5L970.1 254.7L967.4 252.8L970.1 260.9L972.8 266.9L966.0 267.5L959.2 271.0L953.8 275.5L948.4 281.1L944.3 278.3L937.5 281.1L932.0 281.6L929.3 286.4L928.0 291.6L925.2 292.6L928.8 297.7L927.4 301.1L924.7 305.0L925.5 307.4L919.8 311.1L919.8 314.8L915.7 316.6L913.0 322.3L910.8 324.9L908.9 320.1L907.8 311.1L908.4 301.6L911.1 295.2L916.8 291.6L922.2 284.8L926.9 279.4L930.4 273.8L932.3 267.5L926.6 270.4L920.6 275.5L919.3 271.0L911.6 271.6L906.2 281.1L904.8 283.8L898.0 286.4L895.3 283.8L889.9 283.2L881.7 284.3L873.6 284.8L866.8 291.6L861.3 297.7L857.2 305.0L852.6 307.4L857.2 311.1L861.3 311.1L865.4 311.1L868.9 314.8L869.5 318.8L866.8 324.5L866.8 330.9L865.4 335.9L861.3 341.9L855.9 349.7L851.8 354.6L846.4 357.6L842.3 356.5L840.1 359.1L837.7 362.0L837.4 364.5L832.8 367.4L831.4 369.9L833.8 372.3L836.6 377.5L836.8 381.9L835.5 384.2L832.8 384.9L828.7 386.5L828.1 384.6L828.7 381.2L828.7 377.8L827.9 375.4L824.6 374.8L825.4 372.3L824.6 368.8L822.7 367.8L819.2 368.8L815.1 371.3L815.9 368.1L815.1 364.9L812.4 366.3L809.6 369.2L805.6 370.2L804.7 372.7L807.7 375.8L809.1 377.2L812.4 375.4L816.4 376.1L817.8 378.2L813.7 379.5L811.0 381.9L808.8 384.6L810.5 386.5L812.4 389.5L813.7 392.7L815.9 394.7L816.2 397.9L813.7 398.8L815.9 400.7L816.4 403.2L815.1 406.0L812.4 409.1L809.9 413.0L808.3 415.4L805.6 417.8L802.8 420.5L800.1 422.3L796.0 423.2L793.3 424.3L790.6 425.5L786.5 426.7L784.6 428.1L784.6 429.9L783.3 429.0L783.0 426.4L779.7 425.8L777.0 426.7L774.8 428.7L772.9 431.0L772.1 433.9L774.3 436.8L777.0 440.2L779.2 442.2L781.1 445.0L781.9 449.2L781.6 453.4L779.7 455.6L776.5 457.6L774.8 458.1L774.3 460.3L771.0 462.5L769.7 462.5L770.2 459.0L768.8 457.9L766.1 457.3L764.8 454.8L762.9 452.9L759.3 451.6L759.0 449.4L756.6 449.8L756.6 453.4L755.2 456.2L754.4 459.0L754.7 461.2L756.6 463.1L757.7 466.4L760.7 467.8L763.4 470.0L765.3 472.7L765.8 475.4L766.1 478.7L768.0 482.2L766.1 482.8L763.4 480.9L760.1 478.4L758.5 475.4L757.7 471.3L757.1 468.6L755.2 466.4L752.2 464.5L752.0 461.7L752.8 458.1L753.1 453.4L751.7 448.4L750.6 444.2L749.8 440.8L747.9 439.7L744.4 442.8L741.1 442.2L741.6 437.9L740.3 434.2L738.9 431.3L736.2 428.4L734.8 425.5L734.3 423.5L731.6 424.1L730.2 425.2L726.7 425.2L724.0 425.8L721.2 426.7L721.0 429.0L718.5 431.0L715.8 432.8L713.1 435.7L709.0 439.4L706.3 441.4L703.0 443.6L702.5 447.8L703.0 450.6L701.9 454.8L701.9 457.9L700.0 459.0L699.5 460.9L697.3 462.0L695.5 464.2L693.0 462.0L691.9 459.0L690.5 454.8L688.3 451.2L687.0 446.4L684.5 442.2L683.2 437.9L682.6 433.6L682.6 429.3L682.1 427.0L681.3 427.9L677.7 428.7L675.0 427.9L672.3 424.3L675.8 422.3L672.3 422.6L670.1 419.9L667.9 419.3L666.0 416.6L665.5 414.8L660.0 415.4L654.6 415.4L651.9 415.7L649.2 415.1L645.1 414.8L641.8 414.2L639.6 410.6L637.7 409.7L635.6 410.9L632.8 411.4L628.8 410.0L626.0 407.8L623.3 404.8L622.0 401.3L620.6 400.1L617.9 399.4L616.5 400.7L615.2 402.3L616.0 404.4L617.3 407.5L619.5 410.0L621.1 411.8L621.1 414.5L622.8 416.6L623.3 413.3L625.0 413.3L624.7 417.2L626.9 418.7L630.1 418.7L632.8 418.1L635.0 415.4L636.9 413.0L638.0 412.1L638.0 416.0L638.8 417.8L641.8 419.6L644.0 420.2L647.3 423.5L646.4 426.4L644.3 429.3L641.8 431.3L641.5 433.9L638.3 436.5L635.0 437.9L631.5 439.4L627.4 441.4L623.3 444.2L619.2 446.2L615.2 447.8L611.1 449.5L607.0 451.2L603.2 451.5L602.1 449.8L601.6 446.4L600.7 443.1L600.5 439.9L598.3 436.5L596.1 432.8L593.4 429.6L591.2 427.0L590.7 423.5L589.0 419.6L586.3 417.5L585.5 414.5L583.9 412.1L581.2 408.5L580.1 406.6L579.3 406.9L579.7 402.1L577.6 396.6L579.0 394.7L579.5 392.1L580.1 390.8L581.2 388.2L582.2 385.9L582.0 382.9L582.5 381.2L583.1 379.2L581.2 379.2L578.7 378.5L576.3 380.5L573.0 380.9L568.9 378.3L567.6 379.9L564.8 380.5L562.1 378.9L559.4 378.9L558.9 376.8L556.1 373.4L557.5 372.0L557.2 369.9L555.6 369.2L555.9 367.0L557.5 365.6L559.4 366.0L563.5 366.0L564.0 364.2L563.5 363.5L563.2 363.6L560.8 363.8L558.0 365.3L556.1 366.9L555.6 365.3L552.6 364.2L549.9 364.9L549.3 366.7L548.0 366.7L546.3 365.6L546.1 367.8L547.7 370.2L546.9 371.3L549.9 373.7L550.0 375.4L547.7 374.8L547.7 376.5L546.6 376.1L547.4 379.2L545.5 379.5L544.4 378.2L543.4 378.2L542.3 375.1L543.6 373.5L541.7 373.0L540.9 370.9L539.3 368.8L537.4 366.0L537.4 362.4L537.6 360.9L534.9 358.4L532.2 356.5L529.2 354.6L525.9 352.0L525.1 348.9L523.2 348.2L522.4 349.7L521.6 347.0L520.2 346.0L518.1 347.8L518.3 352.0L521.6 354.6L523.2 358.7L525.9 360.4L528.4 360.6L527.8 362.0L530.8 363.8L534.9 366.9L534.6 368.1L530.8 365.6L529.8 368.5L531.1 370.9L529.5 373.0L528.1 374.6L527.2 374.1L528.7 370.9L527.3 367.4L525.4 366.7L523.8 364.9L521.6 363.1L518.1 361.1L515.1 358.7L513.2 356.5L512.6 354.6L511.5 352.4L508.5 351.2L506.6 353.1L504.5 353.9L502.3 356.1L499.0 355.4L496.3 354.8L493.6 355.8L492.8 358.4L493.3 360.6L490.6 362.7L487.3 363.6L486.0 365.6L483.8 369.2L485.1 371.8L483.2 373.4L482.7 375.6L480.2 376.8L478.9 378.5L476.4 378.7L472.6 378.9L471.0 380.2ZM469.1 328.6L471.0 326.9L472.4 324.5L475.1 323.6L476.4 323.6L477.5 321.9L475.9 322.6L473.9 321.9L471.8 321.7L470.2 320.6L471.8 319.7L473.4 318.4L473.6 316.6L471.7 316.6L472.9 315.0L472.0 314.3L473.2 313.9L475.1 314.2L476.3 313.6L476.4 312.0L476.8 310.6L474.8 308.8L476.2 306.7L473.7 307.4L471.4 308.1L470.6 306.4L472.0 304.3L471.5 302.1L469.9 303.6L469.0 305.0L469.4 301.1L469.6 299.7L467.7 297.9L468.7 296.7L469.1 295.2L468.8 292.9L470.2 291.1L471.0 288.5L473.7 288.5L476.3 288.3L476.2 289.3L473.7 292.4L473.2 294.2L475.6 293.1L479.2 293.2L479.7 294.2L479.0 295.9L477.9 298.2L476.7 299.4L477.5 300.2L475.6 301.6L477.8 301.6L479.2 302.8L480.2 304.0L480.8 306.4L481.3 307.8L483.2 309.0L484.3 310.6L484.9 312.9L483.8 312.5L485.6 315.0L484.9 316.1L486.0 315.9L488.1 316.0L489.4 317.5L488.9 319.8L487.7 321.1L486.8 322.3L488.4 322.8L488.3 324.0L487.2 324.9L485.3 325.7L482.4 325.7L481.1 325.6L479.3 326.2L477.9 326.6L476.6 325.7L475.1 327.1L474.7 327.9L473.3 327.3L470.9 328.4L470.5 329.0ZM457.4 321.9L460.1 322.1L462.8 320.8L465.8 319.5L467.5 319.3L468.0 316.1L468.0 313.4L468.0 311.1L469.6 309.2L468.8 306.9L467.7 305.2L464.7 304.8L462.0 305.7L461.2 308.3L461.5 309.7L457.4 309.9L458.2 312.9L457.1 313.9L460.1 315.0L458.5 317.0L456.3 319.7L456.9 321.0ZM464.7 296.7L465.8 294.2L467.5 290.6L467.7 289.0L465.6 291.1L464.2 294.2ZM466.6 294.9L468.0 295.9L469.1 295.4L467.7 293.4ZM467.5 300.2L469.1 299.7L468.3 298.7ZM467.2 303.3L468.1 303.1L467.7 302.1ZM475.4 286.9L477.3 286.7L476.4 284.8ZM480.2 281.6L481.9 280.0L482.2 276.7L480.8 277.8ZM464.5 270.4L466.6 269.8L466.1 267.8ZM471.5 310.9L472.8 310.4L472.6 309.2ZM514.8 304.8L516.7 306.4L518.1 305.5L518.9 303.1L518.1 301.1L516.2 301.9L515.3 303.1ZM511.3 305.0L512.9 306.4L514.0 305.0L512.9 303.6ZM514.5 307.4L517.0 308.3L517.8 306.9L515.9 306.7ZM524.6 305.9L525.8 306.2L525.7 305.0ZM533.8 296.7L534.6 296.9L536.0 294.2L536.6 291.9L535.2 292.6ZM529.2 300.6L529.8 299.7L531.1 295.2L530.6 295.2ZM544.0 290.1L545.8 291.6L548.0 289.6L546.9 288.5L544.4 289.0ZM544.7 286.9L546.9 287.7L547.3 286.4L545.8 285.9ZM537.9 280.0L539.8 281.1L540.4 279.4L538.7 278.9ZM519.7 232.5L522.7 230.3L525.9 228.1L528.1 224.4L525.4 224.4L522.7 228.1ZM624.7 202.6L630.1 211.0L635.6 211.0L641.0 211.0L638.3 203.5L635.6 194.7L636.9 187.3L631.5 186.3L627.4 194.7ZM632.8 185.4L638.3 185.4L643.7 177.5L650.5 167.1L664.1 156.0L672.3 149.0L665.5 147.8L653.2 156.0L643.7 161.7L636.9 170.3ZM616.0 223.6L618.7 225.9L621.4 222.9L618.7 219.8ZM643.7 216.6L647.8 218.2L649.2 214.2L645.1 212.6ZM673.6 188.2L679.1 189.1L677.7 184.9ZM740.3 117.2L748.4 124.4L758.0 121.6L767.5 118.7L756.6 106.6L745.7 90.1L736.2 101.9ZM749.8 125.8L756.6 135.2L768.8 131.2L771.6 124.4L759.3 121.6ZM734.8 109.7L738.9 114.3L741.6 106.6ZM857.2 167.1L866.8 172.4L874.9 170.3L880.4 165.0L873.6 159.4L862.7 158.3ZM883.1 166.1L894.0 172.4L895.3 166.1L888.5 163.9ZM865.4 186.3L872.2 188.2L874.9 185.4L868.1 180.5ZM970.4 208.5L978.3 209.4L981.0 205.2L974.2 203.5ZM608.4 91.9L612.4 100.2L619.2 100.2L620.6 91.9L613.8 88.4ZM622.0 101.9L627.4 105.1L628.8 98.6L624.7 96.9ZM626.0 91.9L631.5 96.9L636.9 95.3L635.6 88.4L628.8 86.6ZM638.3 103.5L643.7 106.6L646.4 100.2L642.4 96.9ZM643.7 93.6L649.2 98.6L654.6 96.9L653.2 90.1L647.8 88.4ZM656.0 96.9L661.4 98.6L662.8 90.1L658.7 88.4ZM870.8 345.5L874.9 342.3L873.6 339.1L872.7 335.0L877.6 333.0L874.4 326.7L874.9 320.1L874.1 314.3L872.2 309.7L870.8 313.4L870.3 320.1L871.1 326.7L870.8 333.8L870.6 341.1ZM865.4 362.0L868.1 360.9L866.8 358.4L870.0 358.0L874.1 360.2L879.8 355.4L879.0 352.8L874.9 351.6L870.6 347.0L869.8 350.9L868.9 355.4L866.2 356.5L864.9 359.1ZM840.6 387.9L843.6 388.2L846.4 386.5L850.4 385.6L851.8 385.9L852.3 388.5L854.0 389.7L857.0 386.9L857.2 385.6L860.5 385.9L862.1 384.2L864.9 384.6L865.4 383.6L867.6 382.2L867.0 379.5L868.1 375.1L869.5 373.0L870.8 369.2L869.5 365.6L869.2 362.4L867.6 363.5L866.2 363.1L865.1 365.6L864.9 370.2L863.8 373.7L861.3 376.5L858.1 376.1L856.4 377.8L854.5 381.2L854.0 382.6L849.1 382.7L845.3 383.1L842.0 385.9ZM843.9 390.1L846.4 391.9L848.5 389.5L849.6 390.3L851.3 388.2L849.1 386.5L846.4 387.5L845.0 388.8ZM837.7 391.1L838.2 392.1L838.7 394.3L838.7 396.6L840.1 397.5L841.2 396.3L842.3 394.3L843.6 391.1L842.8 389.2L840.6 388.2L839.3 389.2L837.4 389.8ZM831.9 412.7L833.6 410.6L832.8 411.5ZM884.4 349.3L889.3 347.0L886.6 347.8ZM880.4 353.5L883.1 351.2L881.2 351.6ZM827.9 390.1L829.8 390.1L829.0 389.3ZM811.3 422.0L813.2 425.2L815.1 421.1L816.2 416.3L815.1 415.1L813.4 416.6L811.5 419.9ZM780.3 433.1L782.4 435.9L785.2 434.2L786.5 431.6L784.6 430.5L781.9 431.0ZM812.6 435.1L817.0 435.1L817.8 439.4L815.4 442.5L815.6 445.9L818.6 447.6L822.2 450.6L822.2 451.9L820.0 450.6L818.1 449.8L815.6 448.1L812.9 448.4L812.6 446.2L811.3 445.6L810.5 442.2L812.1 440.5L812.1 437.7ZM812.1 449.5L814.3 449.5L815.1 452.3L814.0 452.9ZM803.4 463.4L805.6 461.2L808.3 458.4L809.9 455.4L809.1 456.2L806.6 459.5ZM816.2 454.0L819.4 454.8L818.1 457.6L816.4 457.6ZM817.5 459.2L820.2 456.5L820.0 460.9L818.9 461.4ZM820.2 460.3L821.9 457.6L821.9 455.6L820.8 457.9ZM822.7 452.0L825.4 452.0L826.5 455.6L824.6 455.6L824.6 458.7L823.0 457.3L823.0 455.1L824.3 454.3ZM816.2 467.2L818.9 464.7L820.5 462.8L823.8 462.8L825.7 459.5L828.1 462.0L829.0 466.4L827.9 469.1L826.2 467.5L825.7 471.0L823.2 469.7L821.9 467.5L820.0 465.8L817.0 467.5ZM781.1 482.2L782.7 480.9L786.5 481.9L787.6 479.2L792.0 477.6L794.7 474.0L798.2 472.7L800.9 469.4L802.8 467.2L804.7 469.1L806.9 471.3L808.8 472.1L806.1 474.6L804.5 476.2L805.3 480.0L808.0 483.6L805.0 484.1L804.2 488.2L801.5 490.4L800.9 494.2L800.1 496.6L796.3 497.5L795.8 495.6L792.0 495.0L788.7 495.8L784.3 494.2L784.1 490.7L781.9 488.2L781.4 485.2ZM743.5 471.3L749.8 472.1L753.1 476.2L757.4 479.5L760.7 481.7L764.8 484.7L766.9 488.7L768.8 491.2L772.9 494.2L772.9 495.8L772.4 502.1L769.1 502.1L767.5 499.6L762.9 497.2L759.3 493.1L757.4 489.0L754.2 485.5L752.8 481.7L749.0 478.1L745.7 475.4L743.8 472.7ZM770.7 504.8L772.9 502.4L775.6 502.5L779.7 504.3L785.2 505.1L786.5 503.9L790.9 505.1L792.0 507.0L796.0 507.4L795.8 509.8L791.1 509.2L783.8 508.1L779.7 507.6L774.3 506.5ZM796.0 508.7L799.0 509.0L797.9 510.3ZM799.8 509.2L802.0 509.2L801.5 510.6L800.1 510.6ZM802.3 509.5L805.6 508.4L808.3 509.2L806.9 510.3L802.8 511.0ZM810.7 509.2L815.1 509.5L818.9 508.7L818.6 509.8L813.7 510.7L810.7 510.3ZM808.3 512.3L811.8 512.3L813.2 513.9L811.0 514.2ZM820.5 514.5L823.2 511.7L827.3 509.8L830.9 509.2L828.7 511.2L824.6 513.6L821.9 514.5ZM810.5 484.1L813.2 482.8L817.8 483.6L823.2 482.8L825.1 482.2L823.2 484.9L819.2 484.9L813.7 484.9L811.3 488.5L815.1 488.7L820.0 488.2L819.2 489.6L815.9 491.5L817.3 495.0L819.7 498.6L817.8 501.3L815.6 499.4L815.1 497.2L813.4 494.5L812.1 495.8L812.1 501.3L809.6 501.3L809.6 495.8L807.7 493.9L809.1 489.8L810.5 486.8ZM831.4 483.9L832.8 480.6L834.7 483.0L833.3 484.9L834.9 485.5L832.8 488.2L831.9 486.3ZM832.8 495.0L836.8 493.9L840.4 495.0L839.6 496.4L835.5 495.7ZM827.3 495.0L830.0 494.7L830.6 496.4L827.9 496.6ZM840.9 488.5L844.7 487.4L849.1 488.5L849.6 493.1L851.8 495.3L855.3 492.3L859.4 490.4L864.0 492.3L868.1 493.4L873.6 495.6L877.6 496.6L881.2 499.9L884.4 502.4L886.6 504.6L884.4 504.8L885.8 507.6L888.5 510.9L892.6 513.6L894.8 515.3L889.9 514.5L885.0 512.3L881.7 508.4L877.6 507.0L874.4 509.0L873.6 511.4L869.5 511.2L865.4 508.7L862.1 509.0L860.0 506.2L862.4 505.1L860.0 501.3L855.9 499.1L850.4 497.2L846.4 497.5L845.8 495.3L849.1 493.6L845.8 492.8L843.6 491.7L840.9 490.1ZM888.0 501.6L892.6 500.2L897.5 497.7L898.9 498.8L896.7 501.3L893.4 503.2L889.3 502.9ZM894.5 493.4L898.0 495.0L900.8 498.6L899.7 497.7L896.7 494.5ZM905.1 501.0L907.6 502.6L908.6 504.8L906.7 504.0ZM918.4 511.7L922.0 513.1L919.8 513.1ZM921.4 509.2L923.3 512.3L922.2 511.4ZM937.8 527.6L939.4 529.3L938.3 529.5ZM966.9 534.9L970.4 534.9L969.8 536.7L967.1 536.4ZM970.9 532.1L974.2 531.0L972.8 532.7ZM701.7 459.8L703.0 459.8L705.5 462.8L707.4 466.4L706.6 468.9L703.8 470.2L702.5 469.7L701.7 467.2L701.8 463.6ZM736.5 453.4L737.6 449.2L737.3 453.4L736.7 454.8ZM572.5 384.9L574.4 385.9L577.1 384.6L578.7 382.4L576.0 383.4L574.1 383.4ZM548.5 383.6L549.9 382.7L553.1 383.2L556.1 383.7L554.8 384.6L551.8 384.7L548.8 383.7ZM518.5 375.1L520.8 373.7L524.0 374.2L527.0 373.4L525.7 377.8L525.7 379.0L523.5 378.0L520.5 376.5ZM506.9 370.6L507.7 371.3L509.4 370.6L511.0 369.2L511.3 365.6L509.9 363.1L507.2 363.8L507.4 367.4ZM508.0 360.2L508.5 361.8L509.9 362.4L510.6 359.1L510.3 356.5L509.9 357.6L508.3 358.2ZM491.1 369.0L493.0 369.9L494.0 368.3L493.0 367.6ZM494.9 367.4L496.3 367.9L496.0 367.2ZM487.9 371.3L489.0 371.5L488.7 370.6ZM547.7 371.3L550.2 372.2L551.4 374.4L549.9 373.4L548.2 372.3ZM559.9 381.2L561.3 379.9L560.8 381.2ZM555.0 370.2L557.0 370.9L556.4 369.7ZM793.9 549.4L793.6 553.6L793.0 558.1L795.2 561.1L795.0 565.1L797.1 570.3L797.9 575.1L799.3 578.3L799.0 582.8L797.4 583.4L797.7 585.7L800.9 588.0L805.6 588.4L810.5 584.7L815.1 584.2L820.5 584.4L821.9 581.5L827.3 579.2L832.8 578.3L836.8 577.0L841.5 576.7L845.0 578.3L849.1 580.8L849.6 583.4L852.9 587.0L854.2 587.4L855.9 584.4L858.6 581.5L859.7 580.5L859.4 583.4L858.6 588.0L856.7 589.0L860.2 590.0L861.3 587.7L860.0 585.4L861.6 590.0L864.0 591.4L864.9 594.8L866.8 598.2L869.8 599.2L872.2 599.9L874.9 601.1L878.2 598.9L879.0 599.6L882.5 602.0L885.8 598.2L889.9 597.2L892.6 595.8L892.9 591.4L894.8 588.0L896.1 584.1L898.0 580.5L900.5 576.7L901.3 571.9L902.4 567.2L901.3 562.6L901.0 558.1L898.0 555.1L895.3 552.4L894.5 549.1L891.5 548.5L889.9 544.7L887.2 541.8L883.1 539.2L881.7 536.1L881.2 532.9L879.8 529.0L879.0 526.7L875.7 525.6L874.9 522.0L874.1 518.6L872.2 515.6L870.8 517.8L869.8 521.4L869.8 526.2L868.9 530.4L867.6 534.7L865.4 535.2L862.7 533.2L858.6 530.4L854.5 528.4L853.2 527.0L854.5 523.6L857.0 520.0L854.5 519.5L851.8 519.7L847.7 518.6L845.0 517.5L842.3 519.7L840.1 520.6L838.2 523.4L836.8 527.3L834.1 527.0L832.2 525.3L829.5 524.2L826.0 526.2L823.2 529.0L821.9 531.5L820.5 534.4L817.8 533.2L817.0 536.1L815.1 539.0L811.0 541.6L806.9 542.7L802.8 543.9L798.8 546.2L795.5 547.1ZM878.2 607.7L883.1 609.5L887.7 608.2L888.0 612.4L886.9 616.8L883.9 618.3L881.7 618.0L879.8 614.2L879.0 610.6ZM856.2 590.5L858.9 590.0L860.2 590.9L858.1 591.6ZM839.0 517.5L842.0 517.2L841.7 518.6L839.6 518.6ZM855.6 524.2L857.0 524.2L856.7 525.6ZM954.3 586.1L956.5 588.0L959.2 591.4L960.6 594.1L962.8 593.7L963.9 596.8L967.4 597.8L969.8 597.2L968.8 601.0L966.0 602.7L965.8 605.2L963.3 608.8L961.4 610.9L960.1 609.9L960.9 607.0L959.2 604.5L957.3 603.1L959.5 601.0L960.1 597.5L959.0 594.8L957.3 591.4L955.2 588.7ZM954.3 607.0L956.5 608.4L958.7 609.5L957.9 612.0L955.2 616.1L954.6 619.1L950.5 621.0L949.7 625.6L947.8 627.5L945.6 629.9L942.4 629.9L940.2 628.3L937.8 626.8L940.2 622.9L942.9 619.8L947.0 616.8L950.3 613.9L952.2 610.6L952.7 608.1ZM940.5 631.1L942.1 631.1L941.8 632.3L940.5 632.3ZM60.3 433.6L63.3 432.2L61.4 430.2L60.3 431.3ZM58.4 428.1L60.3 428.7L59.5 427.9ZM54.3 426.4L55.7 427.0L55.1 425.8ZM50.1 424.9L51.3 424.9L50.8 424.3ZM891.1 345.8L892.6 346.6L894.1 345.1L892.6 344.3ZM897.4 341.5L898.0 342.0L898.7 341.1L898.0 340.6ZM899.8 339.7L900.2 340.0L900.6 339.3L900.2 339.0ZM901.0 336.8L901.3 337.1L901.6 336.6L901.3 336.3ZM903.0 334.0L903.5 334.4L904.0 333.6L903.5 333.2ZM904.8 331.6L905.4 332.2L905.9 331.0L905.4 330.4ZM907.3 327.7L908.4 328.8L909.5 326.9L908.4 325.8ZM909.6 325.7L910.0 326.0L910.4 325.5L910.0 325.2ZM839.2 399.9L839.6 400.1L840.0 399.6L839.6 399.4ZM840.6 399.0L840.9 399.6L841.2 398.6L840.9 398.0ZM835.8 406.1L836.6 406.5L837.4 405.8L836.6 405.5ZM834.9 407.6L835.2 407.8L835.5 407.4L835.2 407.2ZM825.0 416.7L825.4 416.9L825.8 416.6L825.4 416.4ZM822.0 417.9L822.4 418.1L822.8 417.7L822.4 417.5ZM821.0 418.0L821.3 418.2L821.7 417.9L821.3 417.7ZM739.5 467.4L739.7 467.8L740.0 467.0L739.7 466.7ZM738.6 464.6L738.9 464.8L739.2 464.4L738.9 464.1ZM736.8 461.3L737.0 461.4L737.2 461.1L737.0 460.9ZM684.4 474.9L684.5 475.1L684.7 474.8L684.5 474.6ZM635.3 499.0L635.6 499.1L635.8 498.9L635.6 498.8ZM414.6 375.2L415.2 375.4L415.9 375.0L415.2 374.8ZM407.1 372.7L407.6 373.0L408.2 372.6L407.6 372.4ZM410.3 372.0L410.6 372.2L410.9 371.9L410.6 371.8ZM437.8 392.0L438.4 392.2L438.9 391.9L438.4 391.7ZM468.9 530.3L469.1 530.4L469.3 530.2L469.1 530.1ZM77.5 535.2L78.0 535.4L78.4 535.0L78.0 534.8ZM15.1 524.0L15.9 524.2L16.8 523.8L15.9 523.6ZM16.8 524.5L17.3 524.7L17.8 524.4L17.3 524.3ZM7.7 545.2L8.1 545.4L8.4 545.1L8.1 545.0ZM850.3 466.0L850.4 466.2L850.6 465.7L850.4 465.5ZM878.2 449.5L878.3 449.7L878.5 449.3L878.3 449.1ZM914.7 467.5L914.9 467.6L915.1 467.4L914.9 467.3ZM942.1 535.4L942.4 535.7L942.6 535.1L942.4 534.8ZM938.4 528.6L938.8 529.0L939.2 528.3L938.8 527.9ZM944.8 540.5L945.1 540.7L945.4 540.3L945.1 540.1ZM919.4 518.1L919.8 518.3L920.2 518.0L919.8 517.8ZM924.0 515.1L924.7 515.4L925.4 514.9L924.7 514.7ZM912.2 508.8L913.0 509.0L913.8 508.6L913.0 508.4ZM916.4 508.5L917.1 508.7L917.8 508.3L917.1 508.1ZM910.6 505.5L911.1 505.7L911.6 505.3L911.1 505.1ZM883.9 491.9L884.7 492.1L885.5 491.8L884.7 491.7ZM881.2 605.3L881.4 605.6L881.7 605.1L881.4 604.8ZM886.8 605.4L887.2 605.8L887.5 605.0L887.2 604.6ZM791.1 505.4L792.0 505.6L792.8 505.3L792.0 505.2ZM818.8 499.9L819.2 500.5L819.5 499.4L819.2 498.8ZM822.2 491.1L823.2 491.3L824.3 491.0L823.2 490.8ZM826.8 491.4L827.3 491.5L827.9 491.3L827.3 491.2ZM831.8 490.5L832.5 490.7L833.2 490.3L832.5 490.1ZM837.5 491.6L838.2 491.7L838.9 491.4L838.2 491.2ZM841.7 507.3L842.3 507.9L842.8 506.8L842.3 506.2ZM849.6 503.8L850.2 504.4L850.7 503.2L850.2 502.5ZM837.1 507.9L837.4 508.0L837.7 507.8L837.4 507.7ZM828.1 507.4L829.0 507.5L829.8 507.3L829.0 507.1ZM824.3 509.0L825.1 509.1L826.0 508.9L825.1 508.8ZM822.6 509.0L823.2 509.1L823.9 508.9L823.2 508.8ZM820.0 509.1L820.5 509.3L821.1 509.0L820.5 508.9ZM810.9 442.3L811.0 442.3L811.1 442.1L811.0 442.1ZM805.7 470.3L805.8 470.4L806.0 470.2L805.8 470.1ZM810.6 472.5L811.0 472.6L811.4 472.4L811.0 472.2ZM813.3 470.0L813.7 470.1L814.1 469.9L813.7 469.8ZM816.1 468.4L816.4 468.5L816.8 468.3L816.4 468.1ZM768.5 483.7L768.8 483.9L769.2 483.5L768.8 483.3ZM768.8 487.0L769.1 487.3L769.4 486.7L769.1 486.4ZM772.5 492.9L773.5 493.6L774.4 492.2L773.5 491.5ZM777.5 494.3L778.1 494.6L778.6 494.1L778.1 493.8ZM778.9 475.8L779.2 476.0L779.4 475.6L779.2 475.4ZM749.5 483.3L749.8 484.0L750.1 482.8L749.8 482.1ZM753.0 489.3L753.3 489.8L753.7 488.8L753.3 488.2ZM755.5 492.8L755.8 493.2L756.1 492.3L755.8 491.9ZM757.2 494.6L757.4 494.9L757.6 494.4L757.4 494.1ZM745.3 479.3L745.7 479.4L746.1 479.2L745.7 479.0ZM762.6 501.1L762.9 501.1L763.1 501.0L762.9 500.9ZM1038.1 204.3L1044.9 208.5L1051.7 211.8L1059.9 212.6L1069.4 215.8L1080.3 218.6L1085.7 219.0L1090.3 223.6L1095.2 221.3L1099.3 219.0L1102.0 220.2L1107.5 215.8L1111.6 215.8L1115.6 211.0L1118.4 214.2L1121.6 220.5L1124.6 214.6L1127.3 220.5L1133.3 217.4L1142.8 223.6L1149.6 224.4L1152.4 229.6L1150.5 232.5L1156.4 233.2L1164.6 231.8L1168.4 235.3L1170.0 239.5L1171.9 236.0L1170.6 231.8L1174.1 228.8L1178.2 226.6L1180.9 231.0L1186.4 232.5L1191.8 232.5L1195.9 232.5L1196.4 228.1L1199.1 227.0L1201.9 230.3L1202.1 236.0L1204.6 236.0L1204.6 230.3L1207.3 226.6L1204.0 221.3L1201.3 214.2L1202.7 206.0L1205.4 200.0L1207.3 199.1L1210.8 205.2L1211.7 211.8L1214.4 218.2L1217.1 219.8L1218.2 226.6L1221.7 222.1L1224.4 226.6L1225.0 235.3L1227.7 235.3L1230.7 227.4L1231.5 219.0L1234.0 217.0L1239.4 218.2L1242.1 222.9L1242.7 228.1L1240.2 232.5L1242.7 236.7L1239.4 242.3L1235.3 242.9L1231.2 241.6L1228.5 241.6L1229.9 245.0L1226.6 249.6L1223.6 254.7L1219.5 257.8L1216.8 261.5L1213.6 265.1L1210.3 270.4L1207.6 275.5L1205.9 281.1L1206.2 286.4L1210.3 287.7L1211.9 294.7L1212.7 296.7L1216.8 295.7L1223.1 298.7L1225.5 301.6L1231.8 304.5L1239.9 305.7L1240.2 311.1L1240.2 315.7L1242.4 319.3L1244.6 322.8L1247.3 324.1L1249.5 322.3L1249.7 317.9L1248.9 312.0L1247.3 307.8L1250.3 306.4L1253.8 303.1L1255.4 299.2L1255.2 294.2L1252.7 290.6L1250.6 286.9L1253.0 282.1L1252.2 277.2L1251.6 271.0L1252.2 266.9L1257.1 268.1L1262.5 266.9L1268.0 271.6L1272.6 275.0L1274.5 275.5L1273.4 281.1L1274.8 286.4L1277.8 290.6L1281.6 289.6L1284.3 287.5L1286.2 281.6L1288.4 278.9L1289.7 283.8L1292.4 289.0L1295.2 294.7L1296.0 299.2L1299.2 303.1L1302.0 306.4L1306.0 308.3L1307.9 310.6L1308.8 312.9L1312.0 315.7L1312.3 319.3L1310.1 321.9L1308.2 322.8L1303.3 325.4L1300.1 327.5L1295.7 327.9L1289.7 327.5L1283.2 327.9L1280.7 331.3L1277.8 332.6L1274.2 336.5L1271.8 340.3L1270.1 341.9L1273.4 340.3L1274.8 337.7L1277.5 335.2L1280.2 333.6L1285.6 331.9L1288.9 333.4L1288.6 335.5L1285.6 336.9L1283.5 336.9L1285.1 338.7L1287.8 337.9L1287.0 341.1L1287.8 343.9L1290.3 344.7L1292.4 345.8L1295.2 345.6L1296.8 346.4L1296.5 344.3L1298.2 341.5L1299.5 341.1L1299.8 343.9L1301.1 345.1L1298.2 347.4L1295.2 349.1L1290.8 350.5L1288.9 351.6L1286.2 354.3L1284.8 354.6L1283.9 353.1L1284.6 350.5L1287.5 348.2L1288.6 346.2L1286.5 347.0L1284.1 348.2L1281.6 348.8L1280.5 350.5L1278.0 351.6L1276.1 352.4L1272.9 354.1L1271.5 356.3L1271.5 358.0L1270.7 359.1L1271.8 360.4L1273.1 360.2L1273.4 361.5L1271.5 361.8L1269.6 362.2L1268.0 362.7L1265.5 362.9L1263.6 363.8L1266.1 364.0L1268.2 363.6L1266.3 364.5L1263.3 365.3L1262.5 365.8L1262.0 368.5L1260.1 371.1L1258.4 369.3L1259.5 371.6L1259.5 373.4L1258.4 375.1L1257.1 377.5L1257.4 374.8L1256.3 372.0L1256.8 369.2L1255.7 370.2L1255.7 372.7L1256.3 374.8L1256.0 377.2L1257.1 378.2L1257.6 380.5L1258.4 383.7L1255.7 385.6L1253.5 386.2L1251.8 388.4L1249.2 388.8L1248.1 390.8L1246.5 392.1L1244.0 393.7L1243.2 395.6L1242.4 398.8L1242.7 401.0L1243.5 403.2L1244.7 405.5L1245.4 408.5L1246.1 410.9L1245.8 413.8L1245.0 415.4L1243.2 415.6L1241.4 413.2L1240.6 411.2L1239.1 408.8L1238.6 407.2L1239.0 404.1L1237.9 403.4L1236.4 401.3L1235.0 400.4L1232.6 401.8L1231.5 401.6L1230.7 400.2L1228.5 399.4L1226.3 399.7L1224.4 398.8L1222.0 399.4L1220.1 400.1L1220.6 401.3L1221.2 402.9L1221.2 403.8L1219.5 402.9L1218.5 403.5L1216.6 403.7L1215.2 402.4L1213.3 401.9L1210.8 401.5L1208.5 401.6L1205.9 402.9L1204.3 404.1L1201.6 405.8L1199.4 407.8L1198.9 410.0L1199.6 413.2L1198.3 416.0L1197.9 419.6L1197.6 424.2L1199.1 427.9L1200.5 430.2L1202.4 433.1L1203.4 434.4L1206.8 436.1L1210.3 435.2L1211.8 434.8L1214.1 434.8L1217.0 432.8L1217.6 431.0L1217.9 428.4L1220.0 427.0L1223.1 426.3L1226.9 426.1L1227.7 427.4L1226.1 430.2L1225.8 432.2L1225.3 434.8L1223.9 435.2L1223.9 437.9L1223.8 439.7L1222.3 441.9L1222.8 442.9L1224.4 442.8L1227.7 442.8L1229.9 442.3L1232.9 442.3L1234.8 442.9L1237.5 445.0L1237.0 447.7L1236.7 450.6L1236.0 453.4L1236.1 456.3L1238.0 459.0L1240.2 460.9L1241.6 461.7L1243.5 462.3L1245.4 461.3L1247.0 460.2L1249.2 460.5L1251.6 461.2L1253.4 462.7L1251.9 466.7L1250.6 464.3L1251.4 463.5L1250.0 462.5L1247.6 461.9L1246.5 462.8L1245.1 463.9L1245.1 464.9L1246.2 466.0L1245.0 466.5L1243.8 466.7L1242.9 465.3L1241.6 464.6L1239.9 463.6L1238.3 464.3L1237.6 463.0L1236.1 463.4L1236.0 462.3L1234.9 460.6L1233.6 459.9L1232.9 459.1L1232.3 460.1L1231.0 459.2L1230.3 457.9L1230.4 456.2L1228.5 454.0L1226.6 452.0L1225.3 450.9L1226.1 449.8L1224.8 450.1L1222.8 450.1L1219.4 449.0L1216.8 448.1L1213.8 447.0L1211.9 445.6L1208.9 443.1L1206.8 441.6L1204.9 441.8L1201.3 443.2L1198.6 442.2L1195.3 440.8L1192.1 439.8L1187.7 437.7L1185.8 436.7L1182.3 435.7L1179.8 433.4L1178.2 432.2L1176.3 429.6L1177.5 428.9L1177.1 426.4L1176.0 423.2L1174.4 421.4L1171.1 417.8L1169.0 415.4L1167.0 414.2L1166.2 410.9L1163.8 408.8L1162.2 407.2L1159.2 404.4L1157.5 401.6L1156.4 398.2L1154.8 396.6L1151.5 395.0L1151.3 397.5L1152.1 400.1L1154.8 403.8L1157.0 406.9L1158.5 409.1L1159.7 410.9L1160.9 413.0L1162.7 416.6L1163.8 418.4L1165.1 419.0L1166.2 420.8L1164.9 422.3L1163.8 420.5L1160.5 417.8L1158.9 416.6L1158.6 413.6L1157.0 412.1L1154.5 410.7L1152.4 409.1L1151.0 407.4L1153.4 406.6L1152.9 404.8L1151.0 402.6L1149.0 400.7L1148.3 398.8L1146.5 395.0L1145.3 392.7L1144.7 391.1L1142.3 388.7L1141.2 387.9L1139.6 387.4L1138.2 386.5L1136.0 386.4L1135.6 384.2L1133.9 382.2L1132.2 379.7L1132.4 378.5L1130.9 376.8L1130.6 375.1L1129.2 374.4L1127.3 371.1L1127.1 368.5L1125.4 365.8L1126.2 363.8L1126.0 360.6L1125.0 357.1L1126.0 354.3L1126.4 350.3L1126.7 346.6L1126.5 343.9L1126.2 341.1L1124.8 337.5L1124.6 335.5L1127.9 336.5L1129.9 336.7L1130.6 339.9L1129.5 340.7L1130.9 339.9L1131.1 337.1L1130.3 333.8L1129.0 331.7L1126.5 330.1L1124.3 328.8L1122.4 326.7L1118.9 324.9L1116.5 323.6L1115.9 320.1L1114.6 316.6L1112.4 313.4L1110.2 311.1L1109.4 308.3L1109.9 306.4L1107.5 305.5L1105.0 303.1L1103.7 299.2L1101.0 296.2L1099.6 292.1L1098.0 290.1L1095.8 284.8L1095.2 288.0L1093.1 290.1L1089.8 288.5L1086.8 285.4L1083.8 283.5L1079.2 281.1L1074.8 280.8L1070.8 280.5L1067.4 278.3L1065.6 275.3L1061.8 276.1L1059.9 280.5L1057.2 281.3L1054.4 284.3L1050.6 285.6L1051.7 282.7L1052.0 277.8L1054.4 275.0L1056.1 273.8L1053.1 275.5L1050.4 278.3L1048.2 282.1L1044.9 285.4L1046.3 287.5L1044.1 290.6L1040.8 293.7L1038.1 296.7L1033.0 300.6L1028.6 303.6L1023.7 305.9L1020.4 307.8L1019.1 306.9L1022.3 304.0L1026.4 301.6L1031.9 297.2L1035.4 293.7L1035.7 290.1L1036.8 287.5L1033.2 287.5L1031.6 289.6L1028.6 286.9L1025.1 288.0L1022.8 288.3L1024.0 285.4L1023.2 281.6L1020.4 281.9L1016.4 279.4L1014.2 277.8L1015.0 275.0L1012.0 271.6L1014.2 266.9L1015.5 263.9L1019.1 263.3L1022.6 260.9L1026.2 259.1L1026.4 254.7L1025.1 252.8L1021.0 255.3L1017.7 254.4L1013.9 254.7L1010.9 253.4L1011.5 250.2L1006.6 247.6L1011.5 243.6L1017.7 241.2L1018.8 244.3L1023.7 244.3L1025.9 242.3L1023.4 240.2L1021.5 238.1L1018.5 237.4L1016.1 233.2L1010.1 228.5L1011.7 224.4L1016.4 223.6L1020.4 217.8L1023.4 213.4L1028.6 210.6L1032.7 209.4ZM996.8 261.5L1004.1 262.7L1004.9 261.5L1001.4 259.7L996.5 259.7ZM1008.5 280.0L1013.4 280.5L1013.1 278.9L1010.1 278.9ZM1007.1 314.3L1011.5 312.5L1010.4 311.1L1006.8 312.9ZM1015.3 308.3L1019.4 307.8L1018.8 306.4L1015.5 306.7ZM1004.1 316.1L1006.8 314.3L1007.4 313.4L1004.7 314.3ZM987.8 320.1L990.5 319.7L990.0 318.6ZM982.6 321.5L983.7 321.5L983.4 320.1ZM979.4 321.5L980.5 321.2L979.9 320.4ZM970.7 322.3L972.6 323.0L972.0 321.9ZM966.9 320.6L967.7 320.1L967.1 319.7ZM953.8 316.4L956.2 316.6L955.7 315.7ZM972.8 320.6L973.7 320.1L973.1 319.9ZM990.8 319.9L993.2 319.7L992.2 319.3ZM994.3 318.8L995.1 318.6L994.9 318.1ZM999.2 317.5L1000.0 317.3L999.8 316.8ZM935.6 305.5L936.9 306.9L936.7 305.0Z"/></defs><use href="#landp" fill="#c1405d"/><defs><clipPath id="onland"><use href="#landp"/></clipPath></defs><g clip-path="url(#onland)"><path d="M430.2 374.4L517.2 372.7L517.2 386.2L539.0 387.9L577.9 392.7L579.5 402.3L577.6 408.5L588.0 427.9L602.4 451.7L626.0 450.6L626.0 591.4L430.2 591.4Z" fill="#ba3c5e"/><path d="M577.6 396.6L582.5 381.2L582.9 381.7L584.3 380.2L588.0 378.5L593.4 378.5L599.9 377.5L606.5 377.2L605.4 373.0L606.5 368.5L610.0 371.5L611.1 371.3L615.2 368.5L616.0 371.3L617.6 372.8L619.2 365.6L616.8 360.7L613.3 362.7L610.9 360.6L613.8 356.5L618.4 343.7L616.8 342.7L615.7 338.3L613.3 337.9L611.6 335.0L612.4 332.1L612.2 329.4L616.2 329.6L617.3 326.2L622.8 321.5L627.4 322.3L632.8 324.5L636.1 326.2L644.0 324.1L651.6 325.4L652.2 322.8L647.8 320.1L650.5 315.9L651.1 311.3L661.9 309.5L670.1 306.4L677.2 305.0L678.3 310.6L684.2 311.1L693.5 309.2L696.5 314.3L702.5 325.2L711.4 324.5L716.3 330.5L722.2 332.6L723.4 332.4L728.3 329.2L735.9 325.4L741.1 326.4L749.3 329.8L752.0 326.7L751.2 322.6L756.3 321.2L762.6 323.2L762.9 326.4L770.2 327.3L775.6 328.8L779.7 331.7L786.0 332.4L792.0 330.5L795.5 327.7L802.0 329.4L805.0 330.9L808.8 328.8L811.3 321.7L812.9 317.7L811.0 316.8L813.7 314.3L820.8 313.2L826.2 315.5L831.4 329.6L839.8 333.6L840.9 338.3L846.4 336.7L851.0 335.7L846.6 348.6L843.4 347.8L840.9 349.3L841.7 354.6L839.8 358.7L842.3 363.8L892.6 367.4L892.6 519.2L729.4 519.2L647.8 486.3L626.0 450.6L602.4 451.7L588.0 427.9L577.6 408.5Z" fill="#bb3c5e"/><path d="M454.7 381.2L469.4 381.4L492.8 372.7L515.9 375.1L536.3 370.9L537.4 360.9L545.5 358.9L546.3 352.0L546.9 337.1L550.2 326.2L548.8 322.3L548.5 311.6L546.6 309.5L537.9 309.0L536.3 304.0L528.1 305.0L530.8 299.2L538.2 291.6L537.9 279.4L539.0 263.9L545.8 248.9L550.3 246.3L549.9 239.5L548.8 236.0L548.8 231.4L540.5 223.2L541.7 223.2L548.5 225.9L554.5 223.6L555.3 218.2L560.8 215.0L564.3 219.8L563.2 223.2L568.4 219.8L570.3 211.8L560.8 203.5L525.4 199.1L495.5 269.8L454.7 291.6Z" fill="#cd435c"/><path d="M560.2 278.0L563.5 273.8L570.6 264.5L566.2 259.4L567.6 252.8L565.4 245.0L563.8 238.8L566.2 233.2L562.1 229.6L563.2 223.2L568.4 219.8L568.6 217.4L568.9 199.1L647.8 71.7L783.8 71.7L974.2 180.5L1015.0 199.1L1015.0 281.1L933.4 337.1L881.7 350.9L880.4 354.3L869.5 346.2L868.1 337.1L862.7 345.1L849.1 362.0L840.1 359.1L839.8 358.7L841.7 354.6L840.9 349.3L843.4 347.8L846.6 348.6L851.0 335.7L846.4 336.7L840.9 338.3L839.8 333.6L831.4 329.6L826.2 315.5L820.8 313.2L813.7 314.3L811.0 316.8L812.9 317.7L811.3 321.7L808.8 328.8L805.0 330.9L802.0 329.4L795.5 327.7L792.0 330.5L786.0 332.4L779.7 331.7L775.6 328.8L770.2 327.3L762.9 326.4L762.6 323.2L756.3 321.2L751.2 322.6L752.0 326.7L749.3 329.8L741.1 326.4L735.9 325.4L728.3 329.2L723.4 332.4L722.2 332.6L716.3 330.5L711.4 324.5L702.5 325.2L696.5 314.3L693.5 309.2L684.2 311.1L678.3 310.6L677.2 305.0L670.1 306.4L661.9 309.5L651.1 311.3L650.5 315.9L647.8 320.1L652.2 322.8L651.6 325.4L644.0 324.1L636.1 326.2L632.8 324.5L627.4 322.3L622.8 321.5L617.3 326.2L616.2 329.6L612.2 329.4L612.4 332.1L611.6 335.0L613.3 337.9L615.7 338.3L616.8 342.7L618.4 343.7L615.2 352.8L616.8 360.7L613.3 362.7L610.9 360.6L608.4 358.4L604.3 358.0L600.2 355.8L593.4 355.0L588.0 350.9L584.2 347.4L586.6 343.1L588.5 340.7L588.8 338.7L592.9 337.5L592.9 333.8L593.7 330.5L588.8 329.0L586.3 327.1L580.9 324.5L576.5 318.6L571.1 319.7L569.7 315.2L573.5 313.9L568.4 309.7L568.9 306.4L566.2 302.3L561.2 300.9L559.9 295.2L559.0 293.9L559.4 290.1L559.3 286.4L560.9 284.0L559.4 281.1Z" fill="#c7405d"/><path d="M537.9 309.0L546.6 309.5L546.6 306.9L542.5 305.2L540.4 304.0L537.6 306.4Z" fill="#c7405d"/><path d="M550.3 246.3L548.8 236.0L548.8 231.4L540.5 223.2L541.7 223.2L548.5 225.9L554.5 223.6L555.3 218.2L560.8 215.0L564.3 219.8L563.2 223.2L562.1 229.6L566.2 233.2L563.8 238.8L565.4 245.0L567.6 252.8L566.2 259.4L570.6 264.5L563.5 273.8L560.2 278.0L558.0 281.1L560.9 284.0L559.3 286.4L559.4 290.1L559.0 293.9L559.9 295.2L561.2 300.9L566.2 302.3L568.9 306.4L568.4 309.7L573.5 313.9L569.7 315.2L571.1 319.7L576.5 318.6L580.9 324.5L586.3 327.1L588.8 329.0L593.7 330.5L592.9 333.8L592.9 337.5L588.8 338.7L588.5 340.7L585.2 345.1L584.4 348.2L577.1 352.8L566.2 356.5L562.4 353.7L562.1 356.5L560.8 360.3L558.9 359.8L556.3 361.3L553.4 362.9L551.2 361.8L547.0 362.6L545.5 358.9L547.2 355.8L545.5 354.3L546.3 352.0L545.8 350.1L542.8 349.7L543.1 348.2L539.7 344.5L541.7 344.1L543.4 341.1L546.9 337.1L544.8 335.5L545.9 332.6L546.3 330.5L550.2 326.2L548.8 322.3L548.8 319.7L547.7 318.8L549.6 317.0L548.5 311.6L546.6 309.5L546.6 306.9L542.5 305.2L541.9 305.0L539.0 301.6L539.0 286.4L540.4 278.3L540.4 263.9L547.2 248.3Z" fill="#bc3c5e"/><path d="M783.8 513.6L892.6 513.6L892.6 480.9L933.4 480.9L933.4 519.2L976.9 519.2L976.9 643.8L783.8 643.8Z" fill="#b93c5e"/><path d="M220.4 413.2L219.4 413.5L215.0 411.8L214.0 408.5L211.8 406.0L210.7 403.5L208.8 401.4L206.3 401.1L205.3 401.6L204.0 403.9L201.7 402.9L200.4 401.8L199.3 398.8L196.3 396.3L194.9 395.1L190.3 395.1L190.3 396.5L182.5 396.5L172.3 392.7L166.1 392.6L158.2 394.3L163.6 430.8L226.2 453.4L233.8 446.3L233.8 444.3L235.2 442.0L238.6 442.0L238.7 441.1L236.0 438.7L237.1 438.7L237.1 437.0L242.1 437.0L243.9 435.1L250.7 435.1L253.4 422.0L226.2 413.0Z" fill="#bb3c5e"/><path d="M141.9 335.9L149.5 335.9L150.0 333.0L225.8 333.0L225.8 331.3L226.7 331.7L230.3 334.6L234.4 335.9L239.8 336.7L241.7 337.1L244.2 335.9L253.7 341.5L254.8 343.1L257.5 345.1L260.2 347.8L260.5 356.5L260.2 358.0L258.6 359.3L260.2 361.3L267.0 359.1L269.7 357.2L269.6 355.6L271.1 354.3L275.7 354.1L277.1 352.0L279.8 349.5L281.4 348.9L290.1 348.9L290.4 348.0L292.0 347.4L293.4 345.5L294.2 342.3L296.4 339.3L298.8 339.7L300.2 340.8L300.2 346.2L301.3 348.4L302.4 349.7L303.7 352.8L307.8 367.4L283.3 397.5L268.9 411.5L268.1 417.5L262.9 419.0L256.1 419.0L239.8 413.0L223.5 413.3L220.4 413.2L219.4 413.5L215.0 411.8L214.0 408.5L211.8 406.0L210.7 403.5L208.8 401.4L206.3 401.1L205.3 401.6L204.0 403.9L201.7 402.9L200.4 401.8L199.3 398.8L196.3 396.3L194.9 395.1L190.3 395.1L190.3 396.5L182.5 396.5L172.3 392.7L166.1 392.6L162.3 393.1L152.8 387.9L141.9 367.4Z" fill="#ed746b"/><path d="M101.1 199.1L101.1 279.4L106.0 280.5L110.6 286.4L113.3 284.0L116.0 282.1L117.4 284.8L121.8 289.6L126.1 298.7L131.0 301.6L131.0 305.0L130.5 307.8L121.5 308.8L103.8 296.7L76.6 301.6L35.8 320.1L-5.0 328.8L-5.0 199.1Z" fill="#ed746b"/><path d="M1004.1 199.1L1004.1 254.1L1000.0 257.2L990.5 257.8L990.5 269.8L947.0 311.1L947.0 328.8L1028.6 328.8L1028.6 199.1Z" fill="#ed746b"/><path d="M293.1 537.1L295.6 534.7L297.2 539.0L298.3 543.3L299.1 546.2L299.9 550.0L301.8 550.0L301.5 553.6L298.6 555.1L298.3 557.2L298.6 560.2L298.8 562.3L296.6 564.1L295.0 567.2L294.2 570.0L294.5 572.9L292.8 575.7L293.9 579.9L294.7 582.5L294.7 585.4L293.1 588.7L293.1 591.7L291.2 593.4L291.2 596.8L291.8 600.3L290.1 603.8L289.3 607.0L289.3 610.6L289.3 614.2L289.3 618.0L289.6 621.7L290.7 625.6L289.3 629.5L287.9 633.5L287.4 637.6L285.2 640.9L285.5 645.9L287.9 646.8L287.9 650.3L288.8 652.5L294.2 652.5L298.4 653.8L298.0 655.3L298.0 665.7L304.0 666.4L305.1 668.6L302.4 675.9L272.4 666.2L267.0 623.7L277.9 571.9L288.8 537.2Z" fill="#ed746b"/><path d="M462.0 305.7L462.3 308.8L464.7 310.4L467.5 310.9L470.2 309.7L469.6 304.5L465.6 304.0Z" fill="#d4485f"/><path d="M448.8 407.9L461.0 407.9L461.0 404.8L464.2 402.6L469.1 401.9L471.0 400.7L474.8 397.9L476.4 395.0L481.3 393.7L480.0 391.1L479.7 386.5L478.6 384.2L479.2 381.2L468.3 381.0L462.8 386.2L454.7 400.7L447.9 406.0Z" fill="#df5059"/><path d="M448.8 407.9L461.0 407.9L461.0 409.1L461.0 413.0L452.0 413.0L452.0 420.7L449.2 422.0L449.0 426.9L438.5 426.9L438.2 428.4L434.3 428.4L435.6 419.0L442.4 410.0L447.6 406.9Z" fill="#ececec"/><path d="M631.2 376.6L633.7 376.5L636.9 374.1L640.2 373.7L645.9 376.1L649.2 379.0L651.1 379.0L650.9 382.6L654.1 384.1L656.2 381.7L660.0 380.2L660.9 377.5L663.0 376.8L665.5 376.6L665.6 375.1L663.0 373.4L658.7 371.1L654.6 367.4L653.0 363.5L648.1 362.4L647.8 359.5L643.7 357.6L639.9 360.6L639.6 362.9L636.9 362.7L635.4 362.7L631.5 359.1L627.4 361.1L624.7 362.0L624.7 370.9L627.4 376.8Z" fill="#ececec"/><path d="M822.8 367.4L829.8 361.1L832.8 360.2L837.9 356.7L840.1 359.1L841.5 363.8L835.5 374.4L833.7 372.3L830.0 373.4L829.2 375.1L826.0 375.8L822.7 374.8L821.9 369.5Z" fill="#ececec"/><path d="M337.7 470.2L336.6 472.7L337.2 477.6L336.1 480.0L340.4 480.3L341.5 479.5L344.1 475.1L345.9 472.7L341.8 469.4Z" fill="#ececec"/><path d="M624.7 417.2L625.0 418.7L627.7 422.1L634.7 422.9L636.4 419.0L637.5 417.5L638.3 416.3L638.3 414.2L637.3 414.1L637.5 412.7L635.6 413.0L631.5 417.2L627.4 417.5Z" fill="#ed746b"/><path d="M577.8 396.7L579.7 402.3L580.9 397.5L581.3 393.1L581.6 390.1L580.1 390.8L578.7 394.3Z" fill="#5aa863"/><path d="M555.5 364.7L557.0 362.6L556.3 361.3L558.9 359.8L560.8 360.3L563.5 361.7L574.4 358.7L582.5 360.2L589.3 362.7L597.6 361.9L600.5 361.7L602.8 363.5L603.5 367.0L606.5 368.5L605.4 373.0L606.5 377.2L599.9 377.5L593.4 378.5L588.0 378.5L584.3 380.2L582.9 381.7L581.2 382.9L574.4 381.9L566.2 381.9L558.0 380.5L554.5 374.4L554.5 367.4Z" fill="#da4f5f"/><path d="M528.4 341.7L529.5 339.5L531.1 337.1L533.0 338.1L535.7 337.9L538.7 336.5L540.4 335.0L543.9 335.7L544.8 335.5L546.9 337.1L543.4 341.1L541.7 344.1L539.7 344.5L536.0 345.5L531.7 345.3L529.8 343.3L529.1 342.9Z" fill="#e0565f"/><path d="M536.0 345.5L539.7 344.5L543.1 348.2L542.8 349.7L545.8 350.1L546.3 352.0L545.5 354.3L547.2 355.8L545.5 358.9L543.4 359.3L540.6 360.7L539.1 358.0L540.0 357.1L536.8 354.6L537.9 352.9L536.6 351.6L537.2 349.3L536.3 349.4L536.4 348.2Z" fill="#ea635f"/><path d="M327.9 572.5L332.3 574.4L333.4 574.7L337.7 577.9L339.9 580.5L339.4 583.9L340.4 589.7L325.2 588.0L325.8 584.4L326.3 579.9Z" fill="#cf4560"/><path d="M469.1 328.6L471.0 326.9L472.4 324.5L475.1 323.6L476.4 323.6L477.5 321.9L475.9 322.6L473.9 321.9L471.8 321.7L470.2 320.6L471.8 319.7L473.4 318.4L473.6 316.6L471.7 316.6L472.9 315.0L472.0 314.3L473.2 313.9L475.1 314.2L476.3 313.6L476.4 312.0L476.8 310.6L474.8 308.8L476.2 306.7L473.7 307.4L471.4 308.1L470.6 306.4L472.0 304.3L471.5 302.1L469.9 303.6L469.0 305.0L469.4 301.1L469.6 299.7L467.7 297.9L468.7 296.7L469.1 295.2L468.8 292.9L470.2 291.1L471.0 288.5L473.7 288.5L476.3 288.3L476.2 289.3L473.7 292.4L473.2 294.2L475.6 293.1L479.2 293.2L479.7 294.2L479.0 295.9L477.9 298.2L476.7 299.4L477.5 300.2L475.6 301.6L477.8 301.6L479.2 302.8L480.2 304.0L480.8 306.4L481.3 307.8L483.2 309.0L484.3 310.6L484.9 312.9L483.8 312.5L485.6 315.0L484.9 316.1L486.0 315.9L488.1 316.0L489.4 317.5L488.9 319.8L487.7 321.1L486.8 322.3L488.4 322.8L488.3 324.0L487.2 324.9L485.3 325.7L482.4 325.7L481.1 325.6L479.3 326.2L477.9 326.6L476.6 325.7L475.1 327.1L474.7 327.9L473.3 327.3L470.9 328.4L470.5 329.0Z" fill="#d4485f"/><path d="M422.9 258.8L427.5 259.1L432.9 261.5L438.4 259.1L443.8 256.0L447.6 251.5L445.2 245.0L441.6 242.9L437.0 244.3L434.3 243.6L429.4 247.0L426.7 248.3L425.3 243.6L422.0 241.9L418.5 247.6L423.4 249.6L423.9 251.5L419.3 252.5L424.8 255.3L422.9 258.8Z" fill="#d4495e"/><path d="M150.0 333.0L225.8 333.0L225.8 331.3L226.7 331.7L230.3 334.6L234.4 335.9L239.8 336.7L241.7 337.1M254.8 343.1L257.5 345.1M260.5 356.5L260.2 358.0L258.6 359.3M269.7 357.2L269.6 355.6M277.1 352.0L279.8 349.5L281.4 348.9L290.1 348.9L290.4 348.0L292.0 347.4L293.4 345.5L294.2 342.3L296.4 339.3L298.8 339.7L300.2 340.8L300.2 346.2L301.3 348.4L302.4 349.7M101.1 218.6L101.1 279.4L106.0 280.5L110.6 286.4L113.3 284.0L116.0 282.1L117.4 284.8L121.8 289.6L126.1 298.7L131.0 301.6L131.0 305.0L130.5 307.8M220.4 413.2L219.4 413.5L215.0 411.8L214.0 408.5L211.8 406.0L210.7 403.5L208.8 401.4L206.3 401.1L205.3 401.6L204.0 403.9L201.7 402.9L200.4 401.8L199.3 398.8L196.3 396.3L194.9 395.1L190.3 395.1L190.3 396.5L182.5 396.5L172.3 392.7L166.1 392.6M233.8 446.3L233.8 444.3L235.2 442.0L238.6 442.0L238.7 441.1L236.0 438.7L237.1 438.7L237.1 437.0L242.1 437.0L243.9 435.1L245.0 435.1M242.1 437.0L242.0 442.5L242.8 442.5M244.4 443.1L242.0 445.3L241.6 446.7L239.5 448.5M241.6 446.7L243.9 448.0L246.1 448.4L245.8 449.5M247.1 450.6L248.8 448.4L251.5 447.8L253.9 445.6L258.3 445.0M251.5 455.9L254.2 456.1L256.9 456.5M259.1 464.3L259.1 461.7L260.1 460.2M274.2 462.7L272.7 466.7M289.4 431.6L289.6 434.8L289.4 436.4M290.5 453.8L287.7 455.9L286.0 460.3L287.7 463.4L288.8 467.2L293.9 467.2L295.8 469.7L301.0 469.4L300.2 474.0L301.5 477.3L302.4 483.0M302.4 483.0L294.7 483.3L294.2 484.9L295.8 489.0L294.3 497.7M294.3 497.7L292.3 496.6L286.3 492.8L281.1 486.8L279.8 486.6M279.8 486.6L273.8 485.2L270.3 482.5M279.8 486.6L279.0 490.4L276.0 493.4L271.9 495.6L270.5 498.8L268.4 499.9L266.2 498.3L266.2 495.6M294.3 497.7L286.3 500.5L285.5 502.9L283.3 506.5L286.3 512.0L292.6 512.3L292.6 516.4L295.3 516.3M295.3 516.3L297.7 520.6L296.9 526.2L295.8 529.3L296.9 531.0L295.6 534.7L293.1 537.1M295.3 516.3L299.6 515.6L306.7 512.8L307.0 517.8L309.4 520.6L313.8 522.0L318.7 523.4L321.1 531.2L326.0 531.2L325.8 534.1L328.2 536.1L326.6 541.3L326.4 542.3M326.4 542.3L323.8 539.8L316.8 540.8L315.1 543.4L314.2 548.4M314.2 548.4L309.7 550.0L307.3 548.0L304.5 547.1L301.8 550.0M326.4 542.3L327.2 548.0L332.8 548.5L333.9 553.6L336.9 553.6L336.1 558.4M314.2 548.4L318.7 553.0L326.8 557.2L327.9 558.4L325.2 563.2L330.9 563.8L332.6 563.5L336.1 558.4M336.1 558.4L338.5 562.3L332.8 566.9L327.9 572.5M327.9 572.5L332.3 574.4L333.4 574.7L337.7 577.9L339.9 580.5L339.4 583.9M327.9 572.5L326.3 579.9L325.8 584.4M302.4 483.0L304.3 484.3L306.4 484.1L310.5 482.2L310.2 479.5L312.2 480.3L310.0 476.5L308.9 475.1L313.8 475.4L318.7 474.0L319.5 472.1M319.5 472.1L317.6 470.1L318.4 468.0L320.6 466.9L321.4 463.1M319.5 472.1L321.7 472.7L321.1 474.0L322.8 475.7L321.7 480.0L323.6 482.5L326.8 482.2L330.9 481.1M329.3 470.1L328.7 472.1L327.1 475.4L328.7 477.3L330.9 481.1L332.6 480.9L336.1 480.0M337.7 470.6L336.6 472.7L337.2 477.6L336.1 480.0L340.4 480.3L341.5 479.5L344.1 475.1M301.8 550.0L301.5 553.6L298.6 555.1L298.3 557.2L298.6 560.2L298.8 562.3L296.6 564.1L295.0 567.2L294.2 570.0L294.5 572.9L292.8 575.7L293.9 579.9L294.7 582.5L294.7 585.4L293.1 588.7L293.1 591.7L291.2 593.4L291.2 596.8L291.8 600.3L290.1 603.8L289.3 607.0L289.3 610.6L289.3 614.2L289.3 618.0L289.6 621.7L290.7 625.6L289.3 629.5L287.9 633.5L287.4 637.6L285.2 640.9L285.5 645.9L287.9 646.8L287.9 650.3L288.8 652.5L294.2 652.5L298.4 653.8M298.0 655.3L298.0 665.7M295.6 534.7L297.2 539.0L298.3 543.3L299.1 546.2L299.9 550.0L301.8 550.0M478.6 384.2L479.7 386.5L480.0 391.1L481.3 393.7L476.4 395.0L474.8 397.9L471.0 400.7L469.1 401.9L464.2 402.6L461.0 404.8L461.0 409.1M461.0 407.9L448.8 407.9M461.0 409.1L461.0 413.0L452.0 413.0L452.0 420.7L449.2 422.0L449.0 426.9L438.5 426.9M461.0 409.1L471.5 416.0L487.9 427.6L487.7 428.7L493.3 431.3L493.6 433.6L496.2 433.2L500.4 432.3L504.9 428.3L517.2 420.5M517.2 420.5L511.5 417.5L510.2 412.4L511.5 410.3L511.0 406.9L511.4 403.8L510.4 400.1L509.4 394.0L505.0 388.5L507.2 384.6L506.9 379.5L508.0 378.0M510.4 400.1L512.6 395.6L515.9 393.1L515.9 390.5M553.0 395.5L551.8 400.4L552.6 403.2L552.6 424.9L552.6 430.8L549.9 430.8L549.9 432.2M549.9 432.2L528.1 420.7L523.2 423.2L517.2 420.5M552.6 424.9L585.0 424.9M549.9 432.2L549.9 443.1L546.9 443.6L544.4 450.6L545.8 456.2L546.9 456.5M589.6 436.5L585.2 439.1L583.6 444.7L584.0 447.0L582.8 451.5L580.1 454.0L577.9 457.3L577.4 460.3M577.4 460.3L574.4 458.1L574.4 452.9L571.6 453.4L571.6 456.2L566.2 458.1L560.8 460.9L556.7 460.3L552.1 462.3L548.8 462.5M577.4 460.3L577.4 463.1L574.4 465.0L579.0 468.0L580.6 471.6L582.2 473.8L577.1 474.9L574.4 476.1L568.9 476.2L568.5 476.8L564.8 474.0L559.1 472.4M559.1 472.4L553.4 466.7L548.8 462.5L548.5 459.0L546.9 456.5L543.6 457.6L536.3 461.7L532.2 465.0L526.8 465.8M526.8 465.8L524.0 470.0L524.3 472.7L527.6 477.9L528.7 480.3L529.8 476.8L535.2 476.8M535.2 476.8L535.2 474.3L537.6 472.4L545.5 475.1L551.2 472.4L559.1 472.4M528.1 420.7L525.4 427.0L527.0 430.8L526.8 439.7L521.6 446.4L521.6 448.7L523.0 450.4L525.1 451.7L525.7 456.2L527.3 459.0L522.7 459.0L525.9 462.8L526.8 465.8M496.2 433.2L496.0 439.9L494.1 443.9L488.1 444.2L485.3 445.2L485.1 447.8L487.3 450.6L490.6 452.3L491.1 453.7L494.4 454.3M494.4 454.3L494.7 450.6L497.9 448.7L503.6 450.6L509.1 451.2L513.7 449.7L518.6 450.5L521.6 448.7M494.4 454.3L494.9 457.6L491.9 461.7L491.9 468.9M508.0 473.2L509.9 469.1L513.2 467.2L515.9 468.3L517.8 463.4L522.1 456.2L523.0 450.4M489.1 469.4L489.0 461.7L486.8 457.9L487.0 456.2M487.9 469.7L486.2 466.1L486.0 463.1L484.6 457.3L484.2 455.9M476.2 472.4L477.0 467.2L477.8 463.9L477.0 460.3L476.8 456.2L484.2 455.9L487.0 456.2L490.0 455.1L491.1 453.7M485.3 445.2L482.7 444.7L479.2 447.3L474.0 449.5L472.6 451.5L470.2 454.0L469.6 457.7L472.1 459.8L477.0 460.3M469.6 457.7L467.7 457.3L462.8 458.4L463.7 463.4L461.5 465.6L462.0 468.9L464.5 470.5L464.1 474.5M461.5 465.6L459.0 466.1L458.8 463.4L456.6 463.1L455.8 465.0L453.3 467.5M456.6 463.1L455.8 461.4L454.1 459.0L450.6 459.2L448.4 461.6M462.8 458.4L462.0 456.2L460.9 454.5L459.3 452.0L455.5 453.7L453.6 452.3L451.1 452.6L447.3 451.5L447.3 454.3L444.6 454.8L443.8 456.2M447.3 451.5L439.2 452.4M453.6 452.3L453.6 450.6L451.4 445.6L447.9 441.9L445.2 440.4L440.3 440.8L439.7 442.2M438.9 449.0L443.8 448.4L447.1 449.2L447.1 449.8L443.8 449.5L438.9 450.4M451.4 445.6L452.5 443.6L455.0 444.7L459.0 443.6L469.6 443.6L469.6 440.8L466.9 416.0L471.5 416.0M511.3 480.0L515.3 480.3L520.8 480.3L524.0 480.3L528.7 480.3M511.3 483.6L515.5 483.6L515.5 480.3M520.8 480.3L523.8 482.5L522.4 486.3L524.0 487.9L523.8 491.5L520.0 492.8L518.6 492.8L516.2 493.9L517.0 496.1L514.8 497.1M535.2 476.8L533.8 480.3L533.0 485.5L532.7 487.7L528.7 491.7L528.7 495.3L526.2 498.0L523.8 499.6L520.2 498.8L519.4 498.3L517.2 499.9M520.2 498.8L518.9 502.1L517.8 502.0M518.2 502.6L521.0 502.2L529.8 502.4L530.6 505.9L532.2 508.4L536.3 508.1L537.4 505.4L540.4 505.4L543.9 506.2L544.2 509.5L544.4 513.1L545.3 517.0L549.9 516.1L549.9 522.0L544.4 522.0L544.4 531.0L548.2 534.9M516.6 533.9L520.0 533.2L522.7 534.4L534.6 534.4L541.7 536.1L548.2 534.9L553.3 535.5M541.7 536.9L548.5 537.5L553.3 535.5M541.7 536.1L541.7 547.7L539.0 547.7L539.0 556.0L539.0 566.9L531.9 567.8L529.5 567.5M539.0 556.0L540.9 562.3L544.4 560.5L547.2 557.5L552.6 558.7L555.0 555.7L558.0 552.5L564.4 548.3L569.7 548.8M564.4 548.3L559.9 543.3L555.9 540.4L553.3 535.5L558.0 535.9L562.9 531.8L567.3 529.3M569.7 548.8L572.7 545.6L574.4 541.3L574.1 537.5L574.4 533.2L571.6 531.5L567.3 530.4L567.3 529.3L566.7 527.0L574.9 524.8M574.9 524.8L573.5 523.6L574.4 520.6L575.2 516.4L574.4 512.5L574.2 512.0L568.9 509.8L568.2 508.7M568.2 508.7L563.2 509.5L561.8 511.7L562.4 516.4L561.8 519.2L563.5 523.1L565.7 523.1L565.7 519.6L563.5 520.3L559.4 520.0L555.3 518.9L553.4 517.0L551.0 517.5L549.9 516.1M574.2 512.0L577.1 512.3L578.7 518.1L579.5 523.4L582.2 527.3L582.0 530.4L580.3 533.5L577.9 531.2L578.4 527.6L578.4 526.2L574.9 524.8M578.7 518.1L582.0 517.5L586.6 518.3L589.3 517.5L594.5 515.0M591.2 499.1L587.1 495.8L586.9 494.5L577.1 489.0L576.8 486.0L578.4 483.3L579.8 481.1L578.2 476.2L577.1 474.9M582.2 473.8L584.7 474.2L588.2 476.5L592.0 477.0L595.6 474.9L598.6 475.5L596.1 478.7L596.1 486.3L596.1 488.7L597.6 490.8M598.6 475.5L601.6 473.8L607.0 472.7L615.2 464.5L612.4 464.5L604.3 461.7L601.6 460.1L601.3 456.3L598.3 456.2L598.3 454.5L599.9 452.2L596.1 448.4L593.4 446.4L590.7 446.2L587.7 445.3L585.2 447.0L584.0 447.0M602.2 454.9L601.3 456.3M599.9 452.2L601.8 451.5M568.5 476.8L568.9 480.0L569.7 480.5L567.6 483.0L565.9 484.7L565.1 487.9L565.1 490.1L563.5 493.6L564.2 495.8L564.6 498.4L565.1 502.6L568.2 508.7M565.1 490.1L567.6 489.2L577.1 489.0M567.6 489.2L568.5 492.7L567.3 495.8L564.6 498.4M563.5 493.6L566.2 492.7L568.5 492.7M569.7 548.8L571.6 555.1L571.5 559.4L571.9 562.2L574.1 562.2M571.5 559.4L569.2 559.3L568.4 561.7L569.7 563.5L571.6 562.2M558.0 570.7L560.8 568.2L564.3 569.1L564.6 571.6L561.6 573.8L559.1 572.9L558.0 570.7M460.5 360.6L462.3 359.8L466.6 360.4L467.7 361.7L465.8 363.8L466.1 367.4L465.6 368.5L464.2 368.6L465.6 370.9L464.7 373.0L465.6 373.7L464.2 375.8L464.5 377.2M479.7 355.2L480.8 356.3L482.7 356.9L486.5 357.4L489.2 358.4L493.2 358.5M505.0 353.5L505.5 352.2L503.4 351.2L503.6 348.9L503.1 345.8L503.8 345.5L503.1 343.5L501.2 344.3L501.2 342.7L503.6 339.5L505.3 338.7L505.3 336.7L506.9 333.2L503.6 332.4L501.9 331.1L500.4 330.7L497.8 329.6L496.0 329.0L495.9 327.7L493.3 325.6L491.5 324.1M493.7 323.0L496.3 323.0L498.2 322.6L500.5 323.9L500.1 325.4L500.9 325.6L502.0 327.3L501.2 328.2L500.2 329.6L500.4 330.7M501.2 328.2L502.3 329.6L501.9 331.1M500.9 325.6L501.2 323.6L500.9 320.8L503.1 320.4L503.8 318.4L504.2 314.8M508.1 306.9L510.3 307.3M523.4 311.5L523.8 314.8L523.1 316.4L524.3 317.7L524.7 321.9L525.4 324.5L524.9 325.2L523.5 324.3L520.0 326.9L517.5 327.5L518.6 329.8L522.1 333.8L520.0 336.1L519.3 338.3L520.0 339.1L517.8 338.5L513.0 338.9L512.3 339.9L510.6 338.9L507.9 337.9L505.3 338.7M503.8 345.5L506.1 345.3L507.4 343.3L509.1 345.6L509.9 343.1L512.1 344.3L513.0 341.7L510.7 340.9L510.6 338.9M513.0 341.7L515.1 341.3L517.8 340.9L518.3 342.3L521.9 343.1L524.3 343.5L527.2 342.3L528.4 341.7L529.5 339.5L531.1 337.1L530.7 334.6L525.4 333.0L524.6 334.6L522.1 333.8M524.9 325.2L526.2 325.4L528.9 326.0L530.0 327.9L532.7 327.5L535.9 330.9L533.8 332.8L531.4 333.6L530.7 334.6M535.9 330.9L538.5 332.1L541.4 331.5L545.9 332.6L544.8 335.5L543.9 335.7L540.4 335.0L538.7 336.5L535.7 337.9L533.0 338.1L531.1 337.1M545.9 332.6L546.3 330.5L550.2 326.2L548.8 322.3L548.8 319.7L547.7 318.8L549.6 317.0L548.5 311.6L546.6 309.5L537.9 309.0M546.6 309.5L546.6 306.9L542.5 305.2L541.9 305.0M548.5 311.6L551.0 311.6L554.0 309.7L554.8 306.9L557.0 305.7L557.0 303.2L561.2 300.9L559.9 295.2L559.0 293.9L559.4 290.1L559.3 286.4L560.9 284.0M541.9 301.3L544.4 299.7L552.3 299.7L557.0 303.2M550.8 292.3L553.4 291.6L556.7 294.2L559.0 293.9M560.2 278.0L563.5 273.8L570.6 264.5L566.2 259.4L567.6 252.8L565.4 245.0L563.8 238.8L566.2 233.2L562.1 229.6L563.2 223.2L568.4 219.8L568.6 217.4M563.2 223.2L564.3 219.8L560.8 215.0L555.3 218.2L554.5 223.6L548.5 225.9L541.7 223.2L540.5 223.2L548.8 231.4L548.8 236.0L549.9 239.5L550.3 246.3M540.5 223.2L539.0 228.1L533.8 227.4L528.4 235.3L526.5 242.9L524.0 244.3L524.3 251.5L521.9 254.1L523.0 256.6L517.5 260.3L517.8 268.1L518.9 275.0L517.8 275.5L518.6 280.0L516.7 281.9L516.8 285.1L515.7 286.9L515.1 285.9M561.2 300.9L566.2 302.3L568.9 306.4L568.4 309.7L573.5 313.9L569.7 315.2L571.1 319.7L576.5 318.6L580.9 324.5L586.3 327.1L588.8 329.0L593.7 330.5L592.9 333.8L592.9 337.5L588.8 338.7L588.5 340.7M548.8 322.3L554.0 320.6L559.4 322.3L564.3 322.8L567.8 323.2L568.6 319.9L571.1 319.7M544.8 335.5L546.9 337.1L552.3 338.1L557.0 336.1L559.4 335.0L563.8 337.3L566.1 341.9L566.5 343.5L563.3 343.3L561.3 347.2L565.2 347.6M557.0 336.1L561.0 341.5L561.3 347.2M546.9 337.1L543.4 341.1L541.7 344.1L539.7 344.5L536.0 345.5L531.7 345.3L529.8 343.3L529.1 342.9L528.4 341.7M521.6 347.2L524.0 347.0L526.2 347.2L527.3 345.6L529.1 342.9M521.9 343.1L521.3 345.1L522.1 346.6M536.3 349.4L530.8 348.2L527.6 348.2L527.4 349.7L528.7 352.0L532.5 356.3L534.8 358.2M536.0 345.5L536.4 348.2L536.3 349.4L537.2 349.3L536.6 351.6L537.9 352.9L536.8 354.6L535.5 355.8L534.8 358.2M539.7 344.5L543.1 348.2L542.8 349.7L545.8 350.1L546.3 352.0L545.5 354.3L547.2 355.8L545.5 358.9L543.4 359.3L540.6 360.7L539.1 358.0L540.0 357.1L536.8 354.6M539.1 358.0L537.4 360.6M540.6 360.7L540.4 362.7L541.7 364.4L540.9 367.0L539.0 368.5M541.7 364.4L544.4 363.3L547.0 362.6L545.5 358.9M547.0 362.6L551.2 361.8L553.4 362.9L556.3 361.3L558.9 359.8L560.8 360.3M556.3 361.3L557.0 362.6L555.5 364.7M546.3 352.0L547.2 353.5L553.7 354.1L558.0 352.2L562.4 353.7M462.3 308.8L464.7 310.4L467.5 310.9M597.6 361.9L600.5 361.7L602.8 363.5L603.5 367.0L606.5 368.5L605.4 373.0L606.5 377.2L599.9 377.5L593.4 378.5L588.0 378.5L584.3 380.2L582.9 381.7M593.4 355.0L600.2 355.8L604.3 358.0L608.4 358.4L610.9 360.6L611.4 363.5L607.0 362.7L602.8 363.5M607.0 362.7L608.6 366.0L611.1 369.2L611.1 371.3L610.0 371.5L606.5 368.5M610.9 360.6L613.3 362.7L616.8 360.7M611.1 371.3L615.2 368.5L616.0 371.3L617.6 372.8M582.4 385.7L584.2 387.2L582.2 389.8L581.6 390.1L582.2 392.1L584.7 393.4L590.1 389.8L596.1 386.5L596.9 379.5L599.9 377.5M579.7 402.3L580.9 397.5L581.3 393.1L581.6 390.1L580.1 390.8M579.7 402.7L582.8 403.2L586.6 400.7L588.0 399.1L585.2 395.9L590.7 394.3L591.2 393.9L590.1 389.8M591.2 393.9L594.5 394.5L598.8 397.2L606.2 403.2L611.1 403.5L614.3 405.3M611.2 403.5L612.7 400.7L615.0 400.7M616.5 400.9L614.3 397.5L614.3 394.0L610.0 391.1L608.1 387.9L610.3 384.2L608.1 381.2L606.5 377.2M601.0 441.1L602.1 438.5L604.8 438.2L611.9 438.8L615.2 436.5L626.0 433.6L634.2 430.8L636.0 424.9L634.7 422.9L627.7 422.1L625.0 418.7M626.0 433.6L629.0 440.4M634.7 422.9L636.4 419.0L637.5 417.5L638.0 416.2M637.3 414.1L637.5 412.7M631.2 376.6L633.7 376.5L636.9 374.1L640.2 373.7L645.9 376.1L649.2 379.0L651.1 379.0L650.9 382.6L649.4 386.9L649.2 388.8L650.2 394.3L652.4 396.3L650.1 401.2L652.4 404.8L655.4 406.3L655.4 409.4L656.8 411.0L652.7 412.4L652.2 415.4M650.9 382.6L654.1 384.1L656.2 381.7L660.0 380.2L660.9 377.5L663.0 376.8L665.5 376.6L669.0 377.2L669.6 377.8L673.6 375.8L675.8 373.0L679.1 374.8L679.4 378.9L684.0 376.3L688.3 377.0M665.5 376.6L665.6 375.1L663.0 373.4L658.7 371.1L654.6 367.4L653.0 363.5L648.1 362.4L647.8 359.5L643.7 357.6L639.9 360.6L639.6 362.9L636.9 362.7L635.4 362.7L631.5 359.1L627.4 361.1M618.4 343.7L616.8 342.7L615.7 338.3L613.3 337.9L611.6 335.0L612.4 332.1L612.2 329.4L616.2 329.6L617.3 326.2L622.8 321.5L627.4 322.3L632.8 324.5L636.1 326.2L644.0 324.1L651.6 325.4L652.2 322.8L647.8 320.1L650.5 315.9L651.1 311.3L661.9 309.5L670.1 306.4L677.2 305.0L678.3 310.6L684.2 311.1L693.5 309.2L696.5 314.3L702.5 325.2L711.4 324.5L716.3 330.5L722.2 332.6L723.4 332.4M722.2 332.6L717.8 335.5L717.7 340.3L710.4 340.3L708.5 346.8L702.5 348.9L704.4 355.9L702.7 359.5M702.7 359.5L699.5 357.2L690.8 356.9L686.4 355.8L684.5 358.7L677.7 359.1L672.6 362.4L669.6 364.2L665.8 363.1L664.1 358.7L664.4 356.5L661.1 353.9L650.8 351.6L643.7 346.8L636.9 348.9L636.9 362.7M702.7 359.5L697.8 362.4L693.8 363.8L691.3 366.0L688.1 365.6L685.3 368.1L685.1 369.3L679.6 369.3L676.6 369.0L673.1 367.8L676.6 366.7L679.6 366.9L683.2 364.5L679.6 362.0L675.5 362.0L677.7 359.1M685.1 369.3L688.3 372.8L688.3 377.0M669.0 377.2L669.6 373.7L670.6 373.7L667.9 369.2L671.2 367.0L673.1 367.8M688.3 377.0L685.9 378.5L679.6 379.9L678.3 381.4L679.4 383.9L678.0 386.5L675.0 387.9L675.8 390.1L673.6 390.8L673.1 394.3L670.1 395.0L668.5 396.3L665.2 397.9L664.9 401.2L658.7 402.4L654.6 402.6L650.1 401.2M670.1 419.9L671.7 418.1L677.7 417.8L675.0 411.2L675.8 407.2L680.2 407.1L683.2 403.8L685.6 400.1L687.5 397.2L687.2 394.3L689.4 393.4L685.9 390.5L685.3 386.9L690.0 385.9L694.0 384.6L696.2 382.9M688.3 377.0L691.0 379.0L693.5 382.4L696.2 382.9L699.2 386.5L699.5 390.5L698.9 392.7L697.8 392.7L698.9 396.9L702.2 399.0L704.9 400.1M704.9 400.1L702.5 404.4L711.2 408.9L715.8 410.4L724.2 411.8L724.4 407.4L718.5 406.9L713.1 404.3L707.6 400.7L704.9 400.1M724.4 407.4L726.1 406.8L726.4 409.1L726.7 410.4L734.8 410.4L735.1 408.8L733.8 407.5L729.4 406.0L726.4 409.1M733.8 407.5L737.6 405.1L743.0 403.2L746.8 402.9L749.4 406.1M749.4 406.1L748.4 409.7L743.5 413.0L741.9 416.0L740.3 419.3L738.4 419.0L738.6 422.0L736.5 427.0L735.7 428.7M726.8 425.2L726.4 421.4L724.2 417.5L725.0 413.0L726.4 412.0L729.0 415.1L735.9 415.7L735.4 418.4L732.7 418.7L732.9 422.0L734.3 421.1L735.7 421.4L736.5 427.0M749.4 406.1L753.1 408.1L753.1 413.3L750.1 417.5L753.6 421.4L755.0 424.6L756.9 426.4L759.7 426.3L759.7 427.1L756.9 429.7M756.9 429.7L753.9 431.3L750.6 435.1L750.3 437.1L752.8 441.1L751.7 444.5L754.4 448.7L754.4 454.3L753.2 457.9L752.7 459.1M756.9 429.7L758.0 432.2L760.1 432.2L759.3 436.8L762.3 435.9L765.8 435.4L769.4 438.2L769.7 441.6L771.8 443.6L770.7 447.0M770.7 447.0L764.8 447.1L763.1 449.1L764.5 454.4M756.9 468.7L759.6 470.8L762.3 469.3M759.7 427.1L761.4 427.4L762.4 423.6L764.8 427.9L769.1 429.6L767.5 432.2L770.7 434.8L774.6 439.5L777.0 444.5L777.1 445.9L777.0 452.4L772.9 454.1L772.5 456.2L768.7 457.8M770.7 447.0L772.9 446.9L777.1 445.9M762.4 423.6L767.2 423.3L771.0 421.1L774.8 422.6L774.6 424.9L778.4 426.3M723.4 332.4L724.0 334.6L729.4 337.7L732.1 343.1L731.8 348.2L738.9 349.1L744.1 351.8L746.8 357.4L756.6 357.8L761.5 358.4L770.2 361.7L775.6 358.9L783.8 357.8L789.0 353.9L789.0 348.8L793.6 349.9L800.1 346.2L803.9 342.9L810.7 342.3L806.9 337.3L798.8 337.5L802.0 329.4M723.4 332.4L728.3 329.2L735.9 325.4L741.1 326.4L749.3 329.8L752.0 326.7L751.2 322.6L756.3 321.2L762.6 323.2L762.9 326.4L770.2 327.3L775.6 328.8L779.7 331.7L786.0 332.4L792.0 330.5L795.5 327.7L802.0 329.4L805.0 330.9L808.8 328.8L811.3 321.7L812.9 317.7L811.0 316.8L813.7 314.3L820.8 313.2L826.2 315.5L831.4 329.6L839.8 333.6L840.9 338.3L846.4 336.7L851.0 335.7L846.6 348.6L843.4 347.8L840.9 349.3L841.7 354.6L839.8 358.7L837.9 356.7L832.8 360.2L829.8 361.1L822.8 367.4M829.2 375.1L830.0 373.4L833.7 372.3M782.8 480.9L782.7 483.6L785.2 483.9L788.7 483.6L789.8 482.4L793.9 482.9L796.9 481.1L796.3 480.0L797.7 478.7L799.0 477.0L799.0 474.9L803.9 474.9L805.3 475.0M795.0 473.8L796.6 475.4L798.2 474.3L798.2 473.0M868.1 493.4L868.1 511.2M824.5 510.7L825.0 512.0M974.2 224.4L974.2 251.5" fill="none" stroke="#666366" stroke-width="1.05" stroke-linejoin="round"/></g><use href="#landp" fill="none" stroke="#666366" stroke-width="1.15" stroke-linejoin="round"/><path d="M930.7 542.1L934.8 544.7L938.8 548.5L936.1 547.7L932.0 544.7ZM381.2 661.5L386.7 662.9L387.2 665.2L384.0 663.8Z" fill="#ececec"/><path d="M271.9 417.2L273.3 418.4L273.0 415.7ZM272.7 410.9L275.2 411.8L274.9 413.0L271.1 410.9ZM271.6 418.7L273.3 419.6L273.0 416.9ZM284.1 427.9L286.0 427.9L285.2 427.0ZM279.8 420.2L281.1 422.0L280.6 421.1ZM275.7 414.8L277.6 416.9L277.1 415.7Z" fill="#ececec" stroke="#8a8a8a" stroke-width="0.7"/><path d="M563.8 363.1L560.8 360.6L560.5 357.2L562.1 355.0L562.4 352.8L565.1 348.9L566.7 345.8L568.4 343.1L571.4 342.3L574.4 345.1L573.0 347.4L575.7 350.5L578.4 349.9L580.9 348.9L584.2 347.4L586.1 347.8L588.8 351.2L592.6 354.6L596.1 357.2L597.8 360.2L597.5 362.0L594.2 363.8L589.3 364.0L585.2 363.5L582.5 361.3L579.8 360.0L575.7 360.2L573.0 360.9L570.0 363.1L566.7 363.3ZM579.8 346.6L580.6 343.9L584.7 341.9L587.4 340.7L591.2 340.3L588.8 343.1L587.4 345.1L588.0 346.6L585.2 347.8L582.5 347.4ZM557.8 365.8L559.4 364.0L563.2 363.8L565.1 364.7L563.2 366.0L559.7 366.2ZM617.9 376.1L621.4 376.8L626.0 378.9L631.2 378.2L630.9 372.7L628.8 369.2L629.6 364.5L628.2 361.3L631.5 360.2L627.4 358.0L623.9 355.8L623.3 351.2L624.7 347.8L628.8 347.4L629.3 341.9L626.0 341.1L622.0 341.9L617.9 343.9L615.2 346.2L612.4 350.1L613.5 354.6L615.7 359.5L618.4 363.8L621.1 366.0L619.0 369.2L617.6 372.7ZM234.1 342.1L238.4 342.7L243.9 341.5L248.0 343.1L253.4 343.1L254.5 341.5L252.0 337.5L249.3 334.2L244.4 333.4L241.2 337.1L237.6 339.9ZM245.8 361.3L248.2 361.3L249.9 358.4L249.6 352.8L251.8 349.3L253.4 346.2L251.5 345.1L249.0 345.8L246.3 348.6L245.2 350.5L246.6 352.8L245.8 356.5ZM254.2 345.5L257.5 344.7L262.9 345.1L267.0 349.7L264.8 350.5L263.5 348.2L262.4 352.8L260.5 356.3L259.9 353.1L257.5 353.5L257.8 349.3L255.8 347.0ZM257.8 360.9L260.2 362.2L264.3 360.9L269.7 357.4L269.2 356.9L265.6 358.0L262.9 358.4L260.2 360.2ZM267.5 355.4L271.1 355.2L275.7 355.0L277.3 353.1L276.2 352.0L273.0 352.9L269.2 353.5ZM289.8 456.5L291.2 457.6L291.2 460.3L289.0 461.4L288.5 459.0ZM248.0 92.7L256.1 97.8L267.0 96.1L273.8 91.0L272.4 97.8L264.3 101.9L256.1 103.5L249.3 99.4ZM253.4 118.7L260.2 121.6L267.0 117.2L261.6 123.7L254.5 123.7ZM246.6 135.9L253.4 137.2L258.8 133.2L254.8 140.4L249.3 141.0ZM271.6 144.1L267.0 146.0L262.1 141.6L267.0 141.6ZM281.1 117.2L273.8 119.4L268.4 112.8L273.8 113.5ZM249.9 182.5L252.9 182.5L255.3 194.7L254.8 204.3L252.6 203.5L252.9 193.8ZM264.3 184.9L266.5 191.0L271.1 193.8L276.0 192.8L273.8 195.1L268.4 196.5L264.6 192.8ZM163.6 211.0L171.8 212.2L179.1 213.0L178.6 210.6L171.8 209.8L165.0 208.5ZM163.6 204.3L169.1 205.2L173.2 203.5L169.1 202.2ZM171.8 170.3L178.6 170.8L181.3 167.1L175.9 166.6ZM177.2 154.9L184.0 153.7L186.8 160.6L181.3 161.1ZM425.3 212.2L419.3 213.0L413.9 213.8L408.4 211.8L411.2 205.2L416.6 206.9L418.0 209.4L424.8 209.8ZM425.3 197.4L419.3 196.9L413.9 191.9L416.6 187.3L418.5 191.9L422.0 193.8ZM339.1 239.2L344.5 238.5L347.2 237.4L344.5 237.1L339.6 237.8ZM303.7 232.5L307.8 233.9L310.5 234.6L309.2 236.0L305.1 235.3ZM245.2 249.6L241.2 248.9L238.4 246.3L241.2 247.0L244.7 248.0ZM237.9 261.8L233.0 259.7L227.6 257.2L223.5 256.6L227.6 258.5L233.0 260.9ZM190.3 233.9L191.9 234.6L191.7 240.9L190.0 240.2ZM71.7 280.0L73.9 278.9L76.1 275.5L73.9 275.5L71.2 277.8ZM562.9 215.8L567.6 215.8L568.9 214.2L564.8 213.8ZM681.3 211.8L684.0 213.4L685.9 221.3L685.6 227.4L683.2 228.8L682.6 220.5ZM703.6 197.4L709.0 200.0L711.2 207.7L709.3 211.0L707.6 205.2ZM772.9 178.5L781.1 181.5L789.2 182.5L785.2 186.3L777.0 185.4ZM926.6 286.4L930.7 281.6L928.0 282.1Z" fill="#fff" stroke="#666366" stroke-width="1.0" stroke-linejoin="round"/></g></g><path d="M1021.5 88.4H23.3V755.4H1022.5V369" fill="none" stroke="#dcdcdc" stroke-width="1"/><text x="694" y="679.4" font-size="18" fill="#333" stroke="#333" stroke-width="0.5" letter-spacing="0.38" font-family="Liberation Sans, sans-serif">Max. Vaccination Rate</text><defs><linearGradient id="lg" x1="0" x2="1" y1="0" y2="0"><stop offset="0" stop-color="#b5123b"/><stop offset="0.1" stop-color="#cf2a42"/><stop offset="0.2" stop-color="#e8464a"/><stop offset="0.3" stop-color="#f26e5e"/><stop offset="0.4" stop-color="#f88c7c"/><stop offset="0.47" stop-color="#fca89c"/><stop offset="0.495" stop-color="#e0c0ac"/><stop offset="0.52" stop-color="#b4dc98"/><stop offset="0.55" stop-color="#a2d88c"/><stop offset="0.65" stop-color="#7fbf74"/><stop offset="0.78" stop-color="#5aa25a"/><stop offset="0.9" stop-color="#3a8048"/><stop offset="1" stop-color="#2a6a3e"/></linearGradient></defs><rect x="738.2" y="690.1" width="228.5" height="24.4" fill="url(#lg)" stroke="#a09488" stroke-width="1"/><line x1="852.3" y1="711" x2="852.3" y2="716" stroke="#222" stroke-width="1.2"/><text x="735" y="709.8" font-size="17.5" letter-spacing="0.7" text-anchor="end" fill="#5a5a5a" font-family="Liberation Sans, sans-serif">0.00</text><text x="970" y="709.8" font-size="17.5" letter-spacing="1" fill="#5a5a5a" font-family="Liberation Sans, sans-serif">87.40</text><rect x="883.2" y="720" width="133.6" height="29.5" rx="3.5" fill="#a8a8a8" fill-opacity="0.85"/><text x="950" y="742" font-size="18.5" letter-spacing="0.7" font-weight="bold" text-anchor="middle" fill="#fff" font-family="Liberation Sans, sans-serif">12 unknown</text><rect x="26" y="732.3" width="136" height="21" fill="#fafafa" fill-opacity="0.9"/><text x="28.5" y="747.6" font-size="16" fill="#666" font-family="Liberation Sans, sans-serif">© OpenStreetMap</text><text x="28" y="67.9" font-size="29.5" letter-spacing="1.08" fill="#333" stroke="#fff" stroke-width="0.6" font-family="Liberation Sans, sans-serif">Vaccinations</text><text x="1026" y="54" font-size="29.5" letter-spacing="0.68" fill="#333" stroke="#fff" stroke-width="0.6" font-family="Liberation Sans, sans-serif">Cases_Vaccinations</text><text x="1033" y="430" font-size="29.5" letter-spacing="0.9" fill="#333" stroke="#fff" stroke-width="0.6" font-family="Liberation Sans, sans-serif">Cases_Vaccinations_Strigency</text><rect x="625" y="30" width="236" height="30.5" fill="#fbfcfe"/><rect x="625" y="30" width="31" height="30.5" fill="#f7fafd"/><circle cx="641" cy="45.5" r="4.5" fill="#f2f4f7"/><text x="666" y="52" font-size="17.5" fill="#f1f3f6" font-family="Liberation Sans, sans-serif">Rectangular Snip</text><line x1="1021.5" y1="89.8" x2="1605" y2="89.8" stroke="#d4d4d4" stroke-width="1"/><line x1="1022" y1="296.6" x2="1605" y2="296.6" stroke="#d4d4d4" stroke-width="1"/><line x1="1084.4" y1="89.3" x2="1084.4" y2="296.6" stroke="#d4d4d4" stroke-width="1"/><line x1="1541.5" y1="73" x2="1541.5" y2="369" stroke="#d4d4d4" stroke-width="1"/><line x1="1085" y1="115.6" x2="1541" y2="115.6" stroke="#ececec" stroke-width="1"/><line x1="1085" y1="158.2" x2="1541" y2="158.2" stroke="#ececec" stroke-width="1"/><line x1="1085" y1="200.6" x2="1541" y2="200.6" stroke="#ececec" stroke-width="1"/><line x1="1085" y1="243.0" x2="1541" y2="243.0" stroke="#ececec" stroke-width="1"/><line x1="1085" y1="285.4" x2="1541" y2="285.4" stroke="#c8c8c8" stroke-width="1" stroke-dasharray="1 3"/><line x1="1084" y1="296.6" x2="1084" y2="299" stroke="#efefef" stroke-width="1"/><line x1="1104" y1="296.6" x2="1104" y2="299" stroke="#efefef" stroke-width="1"/><line x1="1124" y1="296.6" x2="1124" y2="299" stroke="#efefef" stroke-width="1"/><line x1="1144" y1="296.6" x2="1144" y2="299" stroke="#efefef" stroke-width="1"/><line x1="1164" y1="296.6" x2="1164" y2="299" stroke="#efefef" stroke-width="1"/><line x1="1184" y1="296.6" x2="1184" y2="299" stroke="#efefef" stroke-width="1"/><line x1="1204" y1="296.6" x2="1204" y2="299" stroke="#efefef" stroke-width="1"/><line x1="1224" y1="296.6" x2="1224" y2="299" stroke="#efefef" stroke-width="1"/><line x1="1244" y1="296.6" x2="1244" y2="299" stroke="#efefef" stroke-width="1"/><line x1="1264" y1="296.6" x2="1264" y2="299" stroke="#efefef" stroke-width="1"/><line x1="1284" y1="296.6" x2="1284" y2="299" stroke="#efefef" stroke-width="1"/><line x1="1304" y1="296.6" x2="1304" y2="299" stroke="#efefef" stroke-width="1"/><line x1="1324" y1="296.6" x2="1324" y2="299" stroke="#efefef" stroke-width="1"/><line x1="1344" y1="296.6" x2="1344" y2="299" stroke="#efefef" stroke-width="1"/><line x1="1364" y1="296.6" x2="1364" y2="299" stroke="#efefef" stroke-width="1"/><line x1="1384" y1="296.6" x2="1384" y2="299" stroke="#efefef" stroke-width="1"/><line x1="1404" y1="296.6" x2="1404" y2="299" stroke="#efefef" stroke-width="1"/><line x1="1424" y1="296.6" x2="1424" y2="299" stroke="#efefef" stroke-width="1"/><line x1="1444" y1="296.6" x2="1444" y2="299" stroke="#efefef" stroke-width="1"/><line x1="1464" y1="296.6" x2="1464" y2="299" stroke="#efefef" stroke-width="1"/><line x1="1484" y1="296.6" x2="1484" y2="299" stroke="#efefef" stroke-width="1"/><line x1="1504" y1="296.6" x2="1504" y2="299" stroke="#efefef" stroke-width="1"/><line x1="1524" y1="296.6" x2="1524" y2="299" stroke="#efefef" stroke-width="1"/><line x1="1544" y1="296.6" x2="1544" y2="299" stroke="#efefef" stroke-width="1"/><text x="1076.3" y="121.89999999999999" font-size="17.8" text-anchor="end" fill="#787878" font-family="Liberation Sans, sans-serif">80</text><text x="1076.3" y="164.5" font-size="17.8" text-anchor="end" fill="#787878" font-family="Liberation Sans, sans-serif">60</text><text x="1076.3" y="206.9" font-size="17.8" text-anchor="end" fill="#787878" font-family="Liberation Sans, sans-serif">40</text><text x="1076.3" y="249.3" font-size="17.8" text-anchor="end" fill="#787878" font-family="Liberation Sans, sans-serif">20</text><text x="1076.3" y="291.7" font-size="17.8" text-anchor="end" fill="#787878" font-family="Liberation Sans, sans-serif">0</text><text x="1549" y="119.2" font-size="17.8" fill="#787878" font-family="Liberation Sans, sans-serif">15</text><line x1="1541.5" y1="112.9" x2="1546" y2="112.9" stroke="#d4d4d4"/><text x="1549" y="177.20000000000002" font-size="17.8" fill="#787878" font-family="Liberation Sans, sans-serif">10</text><line x1="1541.5" y1="170.9" x2="1546" y2="170.9" stroke="#d4d4d4"/><text x="1549" y="234.60000000000002" font-size="17.8" fill="#787878" font-family="Liberation Sans, sans-serif">5</text><line x1="1541.5" y1="228.3" x2="1546" y2="228.3" stroke="#d4d4d4"/><text x="1549" y="290.1" font-size="17.8" fill="#787878" font-family="Liberation Sans, sans-serif">0</text><line x1="1541.5" y1="283.8" x2="1546" y2="283.8" stroke="#d4d4d4"/><text transform="translate(1040.8 191.3) rotate(-90)" font-size="18" fill="#333" stroke="#333" stroke-width="0.5" letter-spacing="0.38" text-anchor="middle" font-family="Liberation Sans, sans-serif">Max. Vaccination Rate</text><text transform="translate(1598.3 191) rotate(-90)" font-size="18" fill="#333" stroke="#333" stroke-width="0.5" text-anchor="middle" font-family="Liberation Sans, sans-serif">Max. Case Rate</text><text x="1313" y="88.4" font-size="18" fill="#333" stroke="#333" stroke-width="0.5" letter-spacing="0.45" text-anchor="middle" font-family="Liberation Sans, sans-serif">Location</text><defs><clipPath id="lc"><rect x="1085" y="90" width="456.5" height="206"/></clipPath></defs><defs><linearGradient id="t0" gradientUnits="userSpaceOnUse" x1="1094" y1="284.5" x2="1114" y2="285.2"><stop offset="0" stop-color="rgb(172, 223, 211)"/><stop offset="1" stop-color="rgb(173, 223, 211)"/></linearGradient><linearGradient id="t1" gradientUnits="userSpaceOnUse" x1="1114" y1="285.2" x2="1134" y2="285.4"><stop offset="0" stop-color="rgb(173, 223, 211)"/><stop offset="1" stop-color="rgb(174, 224, 212)"/></linearGradient><linearGradient id="t2" gradientUnits="userSpaceOnUse" x1="1134" y1="285.4" x2="1154" y2="285.4"><stop offset="0" stop-color="rgb(174, 224, 212)"/><stop offset="1" stop-color="rgb(174, 224, 212)"/></linearGradient><linearGradient id="t3" gradientUnits="userSpaceOnUse" x1="1154" y1="285.4" x2="1174" y2="281.5"><stop offset="0" stop-color="rgb(174, 224, 212)"/><stop offset="1" stop-color="rgb(169, 221, 211)"/></linearGradient><linearGradient id="t4" gradientUnits="userSpaceOnUse" x1="1174" y1="281.5" x2="1194" y2="285.4"><stop offset="0" stop-color="rgb(169, 221, 211)"/><stop offset="1" stop-color="rgb(174, 224, 212)"/></linearGradient><linearGradient id="t5" gradientUnits="userSpaceOnUse" x1="1194" y1="285.4" x2="1214" y2="285.4"><stop offset="0" stop-color="rgb(174, 224, 212)"/><stop offset="1" stop-color="rgb(174, 224, 212)"/></linearGradient><linearGradient id="t6" gradientUnits="userSpaceOnUse" x1="1214" y1="285.4" x2="1234" y2="285.4"><stop offset="0" stop-color="rgb(174, 224, 212)"/><stop offset="1" stop-color="rgb(174, 224, 212)"/></linearGradient><linearGradient id="t7" gradientUnits="userSpaceOnUse" x1="1234" y1="285.4" x2="1254" y2="281.6"><stop offset="0" stop-color="rgb(174, 224, 212)"/><stop offset="1" stop-color="rgb(169, 221, 211)"/></linearGradient><linearGradient id="t8" gradientUnits="userSpaceOnUse" x1="1254" y1="281.6" x2="1274" y2="285.4"><stop offset="0" stop-color="rgb(169, 221, 211)"/><stop offset="1" stop-color="rgb(174, 224, 212)"/></linearGradient><linearGradient id="t9" gradientUnits="userSpaceOnUse" x1="1274" y1="285.4" x2="1294" y2="285.4"><stop offset="0" stop-color="rgb(174, 224, 212)"/><stop offset="1" stop-color="rgb(174, 224, 212)"/></linearGradient><linearGradient id="t10" gradientUnits="userSpaceOnUse" x1="1294" y1="285.4" x2="1314" y2="272.9"><stop offset="0" stop-color="rgb(174, 224, 212)"/><stop offset="1" stop-color="rgb(159, 216, 210)"/></linearGradient><linearGradient id="t11" gradientUnits="userSpaceOnUse" x1="1314" y1="272.9" x2="1334" y2="277.3"><stop offset="0" stop-color="rgb(159, 216, 210)"/><stop offset="1" stop-color="rgb(164, 218, 210)"/></linearGradient><linearGradient id="t12" gradientUnits="userSpaceOnUse" x1="1334" y1="277.3" x2="1354" y2="285.4"><stop offset="0" stop-color="rgb(164, 218, 210)"/><stop offset="1" stop-color="rgb(174, 224, 212)"/></linearGradient><linearGradient id="t13" gradientUnits="userSpaceOnUse" x1="1354" y1="285.4" x2="1374" y2="241.8"><stop offset="0" stop-color="rgb(174, 224, 212)"/><stop offset="1" stop-color="rgb(123, 196, 206)"/></linearGradient><linearGradient id="t14" gradientUnits="userSpaceOnUse" x1="1374" y1="241.8" x2="1394" y2="285.4"><stop offset="0" stop-color="rgb(123, 196, 206)"/><stop offset="1" stop-color="rgb(174, 224, 212)"/></linearGradient><linearGradient id="t15" gradientUnits="userSpaceOnUse" x1="1394" y1="285.4" x2="1414" y2="285.4"><stop offset="0" stop-color="rgb(174, 224, 212)"/><stop offset="1" stop-color="rgb(174, 224, 212)"/></linearGradient><linearGradient id="t16" gradientUnits="userSpaceOnUse" x1="1414" y1="285.4" x2="1434" y2="285.2"><stop offset="0" stop-color="rgb(174, 224, 212)"/><stop offset="1" stop-color="rgb(173, 223, 211)"/></linearGradient><linearGradient id="t17" gradientUnits="userSpaceOnUse" x1="1434" y1="285.2" x2="1454" y2="275"><stop offset="0" stop-color="rgb(173, 223, 211)"/><stop offset="1" stop-color="rgb(161, 217, 210)"/></linearGradient><linearGradient id="t18" gradientUnits="userSpaceOnUse" x1="1454" y1="275" x2="1474" y2="283"><stop offset="0" stop-color="rgb(161, 217, 210)"/><stop offset="1" stop-color="rgb(171, 222, 211)"/></linearGradient><linearGradient id="t19" gradientUnits="userSpaceOnUse" x1="1474" y1="283" x2="1494" y2="285.4"><stop offset="0" stop-color="rgb(171, 222, 211)"/><stop offset="1" stop-color="rgb(174, 224, 212)"/></linearGradient><linearGradient id="t20" gradientUnits="userSpaceOnUse" x1="1494" y1="285.4" x2="1514" y2="226.5"><stop offset="0" stop-color="rgb(174, 224, 212)"/><stop offset="1" stop-color="rgb(105, 186, 204)"/></linearGradient><linearGradient id="t21" gradientUnits="userSpaceOnUse" x1="1514" y1="226.5" x2="1534" y2="285.2"><stop offset="0" stop-color="rgb(105, 186, 204)"/><stop offset="1" stop-color="rgb(173, 223, 211)"/></linearGradient><linearGradient id="t22" gradientUnits="userSpaceOnUse" x1="1534" y1="285.2" x2="1554" y2="284"><stop offset="0" stop-color="rgb(173, 223, 211)"/><stop offset="1" stop-color="rgb(172, 223, 211)"/></linearGradient><linearGradient id="v0" gradientUnits="userSpaceOnUse" x1="1094" y1="283.6" x2="1114" y2="281.8"><stop offset="0" stop-color="rgb(6, 96, 10)"/><stop offset="1" stop-color="rgb(6, 96, 10)"/></linearGradient><linearGradient id="v1" gradientUnits="userSpaceOnUse" x1="1114" y1="281.8" x2="1134" y2="234.3"><stop offset="0" stop-color="rgb(6, 96, 10)"/><stop offset="1" stop-color="rgb(46, 125, 50)"/></linearGradient><linearGradient id="v2" gradientUnits="userSpaceOnUse" x1="1134" y1="234.3" x2="1154" y2="282.1"><stop offset="0" stop-color="rgb(46, 125, 50)"/><stop offset="1" stop-color="rgb(6, 96, 10)"/></linearGradient><linearGradient id="v3" gradientUnits="userSpaceOnUse" x1="1154" y1="282.1" x2="1174" y2="99.8"><stop offset="0" stop-color="rgb(6, 96, 10)"/><stop offset="0.35" stop-color="rgb(40,50,6)"/><stop offset="0.7" stop-color="rgb(120,14,12)"/><stop offset="1" stop-color="rgb(176, 0, 28)"/></linearGradient><linearGradient id="v4" gradientUnits="userSpaceOnUse" x1="1174" y1="99.8" x2="1194" y2="284.8"><stop offset="0" stop-color="rgb(176, 0, 28)"/><stop offset="0.3" stop-color="rgb(120,14,12)"/><stop offset="0.65" stop-color="rgb(40,50,6)"/><stop offset="1" stop-color="rgb(6, 96, 10)"/></linearGradient><linearGradient id="v5" gradientUnits="userSpaceOnUse" x1="1194" y1="284.8" x2="1214" y2="285.7"><stop offset="0" stop-color="rgb(6, 96, 10)"/><stop offset="1" stop-color="rgb(6, 96, 10)"/></linearGradient><linearGradient id="v6" gradientUnits="userSpaceOnUse" x1="1214" y1="285.7" x2="1234" y2="271.7"><stop offset="0" stop-color="rgb(6, 96, 10)"/><stop offset="1" stop-color="rgb(6, 96, 10)"/></linearGradient><linearGradient id="v7" gradientUnits="userSpaceOnUse" x1="1234" y1="271.7" x2="1254" y2="222.9"><stop offset="0" stop-color="rgb(6, 96, 10)"/><stop offset="1" stop-color="rgb(100, 164, 98)"/></linearGradient><linearGradient id="v8" gradientUnits="userSpaceOnUse" x1="1254" y1="222.9" x2="1274" y2="207.4"><stop offset="0" stop-color="rgb(100, 164, 98)"/><stop offset="1" stop-color="rgb(140, 190, 136)"/></linearGradient><linearGradient id="v9" gradientUnits="userSpaceOnUse" x1="1274" y1="207.4" x2="1294" y2="284.2"><stop offset="0" stop-color="rgb(140, 190, 136)"/><stop offset="1" stop-color="rgb(6, 96, 10)"/></linearGradient><linearGradient id="v10" gradientUnits="userSpaceOnUse" x1="1294" y1="284.2" x2="1314" y2="212.8"><stop offset="0" stop-color="rgb(6, 96, 10)"/><stop offset="1" stop-color="rgb(140, 190, 136)"/></linearGradient><linearGradient id="v11" gradientUnits="userSpaceOnUse" x1="1314" y1="212.8" x2="1334" y2="254.3"><stop offset="0" stop-color="rgb(140, 190, 136)"/><stop offset="1" stop-color="rgb(28, 112, 30)"/></linearGradient><linearGradient id="v12" gradientUnits="userSpaceOnUse" x1="1334" y1="254.3" x2="1354" y2="257.9"><stop offset="0" stop-color="rgb(28, 112, 30)"/><stop offset="1" stop-color="rgb(28, 112, 30)"/></linearGradient><linearGradient id="v13" gradientUnits="userSpaceOnUse" x1="1354" y1="257.9" x2="1374" y2="181.7"><stop offset="0" stop-color="rgb(28, 112, 30)"/><stop offset="1" stop-color="rgb(206, 170, 170)"/></linearGradient><linearGradient id="v14" gradientUnits="userSpaceOnUse" x1="1374" y1="181.7" x2="1394" y2="281.2"><stop offset="0" stop-color="rgb(206, 170, 170)"/><stop offset="1" stop-color="rgb(6, 96, 10)"/></linearGradient><linearGradient id="v15" gradientUnits="userSpaceOnUse" x1="1394" y1="281.2" x2="1414" y2="270.8"><stop offset="0" stop-color="rgb(6, 96, 10)"/><stop offset="1" stop-color="rgb(6, 96, 10)"/></linearGradient><linearGradient id="v16" gradientUnits="userSpaceOnUse" x1="1414" y1="270.8" x2="1434" y2="245.4"><stop offset="0" stop-color="rgb(6, 96, 10)"/><stop offset="1" stop-color="rgb(28, 112, 30)"/></linearGradient><linearGradient id="v17" gradientUnits="userSpaceOnUse" x1="1434" y1="245.4" x2="1454" y2="195.1"><stop offset="0" stop-color="rgb(28, 112, 30)"/><stop offset="1" stop-color="rgb(176, 206, 170)"/></linearGradient><linearGradient id="v18" gradientUnits="userSpaceOnUse" x1="1454" y1="195.1" x2="1474" y2="248.9"><stop offset="0" stop-color="rgb(176, 206, 170)"/><stop offset="1" stop-color="rgb(28, 112, 30)"/></linearGradient><linearGradient id="v19" gradientUnits="userSpaceOnUse" x1="1474" y1="248.9" x2="1494" y2="284.2"><stop offset="0" stop-color="rgb(28, 112, 30)"/><stop offset="1" stop-color="rgb(6, 96, 10)"/></linearGradient><linearGradient id="v20" gradientUnits="userSpaceOnUse" x1="1494" y1="284.2" x2="1514" y2="284.8"><stop offset="0" stop-color="rgb(6, 96, 10)"/><stop offset="1" stop-color="rgb(6, 96, 10)"/></linearGradient><linearGradient id="v21" gradientUnits="userSpaceOnUse" x1="1514" y1="284.8" x2="1534" y2="284.2"><stop offset="0" stop-color="rgb(6, 96, 10)"/><stop offset="1" stop-color="rgb(6, 96, 10)"/></linearGradient><linearGradient id="v22" gradientUnits="userSpaceOnUse" x1="1534" y1="284.2" x2="1554" y2="262"><stop offset="0" stop-color="rgb(6, 96, 10)"/><stop offset="1" stop-color="rgb(28, 112, 30)"/></linearGradient></defs><g clip-path="url(#lc)" fill="none" stroke-linecap="round" stroke-linejoin="round"><line x1="1094" y1="284.5" x2="1114" y2="285.2" stroke="url(#t0)" stroke-width="3.2"/><line x1="1114" y1="285.2" x2="1134" y2="285.4" stroke="url(#t1)" stroke-width="3.2"/><line x1="1134" y1="285.4" x2="1154" y2="285.4" stroke="url(#t2)" stroke-width="3.2"/><line x1="1154" y1="285.4" x2="1174" y2="281.5" stroke="url(#t3)" stroke-width="3.2"/><line x1="1174" y1="281.5" x2="1194" y2="285.4" stroke="url(#t4)" stroke-width="3.2"/><line x1="1194" y1="285.4" x2="1214" y2="285.4" stroke="url(#t5)" stroke-width="3.2"/><line x1="1214" y1="285.4" x2="1234" y2="285.4" stroke="url(#t6)" stroke-width="3.2"/><line x1="1234" y1="285.4" x2="1254" y2="281.6" stroke="url(#t7)" stroke-width="3.2"/><line x1="1254" y1="281.6" x2="1274" y2="285.4" stroke="url(#t8)" stroke-width="3.2"/><line x1="1274" y1="285.4" x2="1294" y2="285.4" stroke="url(#t9)" stroke-width="3.2"/><line x1="1294" y1="285.4" x2="1314" y2="272.9" stroke="url(#t10)" stroke-width="3.2"/><line x1="1314" y1="272.9" x2="1334" y2="277.3" stroke="url(#t11)" stroke-width="3.2"/><line x1="1334" y1="277.3" x2="1354" y2="285.4" stroke="url(#t12)" stroke-width="3.2"/><line x1="1354" y1="285.4" x2="1374" y2="241.8" stroke="url(#t13)" stroke-width="3.2"/><line x1="1374" y1="241.8" x2="1394" y2="285.4" stroke="url(#t14)" stroke-width="3.2"/><line x1="1394" y1="285.4" x2="1414" y2="285.4" stroke="url(#t15)" stroke-width="3.2"/><line x1="1414" y1="285.4" x2="1434" y2="285.2" stroke="url(#t16)" stroke-width="3.2"/><line x1="1434" y1="285.2" x2="1454" y2="275" stroke="url(#t17)" stroke-width="3.2"/><line x1="1454" y1="275" x2="1474" y2="283" stroke="url(#t18)" stroke-width="3.2"/><line x1="1474" y1="283" x2="1494" y2="285.4" stroke="url(#t19)" stroke-width="3.2"/><line x1="1494" y1="285.4" x2="1514" y2="226.5" stroke="url(#t20)" stroke-width="3.2"/><line x1="1514" y1="226.5" x2="1534" y2="285.2" stroke="url(#t21)" stroke-width="3.2"/><line x1="1534" y1="285.2" x2="1554" y2="284" stroke="url(#t22)" stroke-width="3.2"/><line x1="1094" y1="283.6" x2="1114" y2="281.8" stroke="url(#v0)" stroke-width="3.4"/><line x1="1114" y1="281.8" x2="1134" y2="234.3" stroke="url(#v1)" stroke-width="3.4"/><line x1="1134" y1="234.3" x2="1154" y2="282.1" stroke="url(#v2)" stroke-width="3.4"/><line x1="1154" y1="282.1" x2="1174" y2="99.8" stroke="url(#v3)" stroke-width="3.4"/><line x1="1174" y1="99.8" x2="1194" y2="284.8" stroke="url(#v4)" stroke-width="3.4"/><line x1="1194" y1="284.8" x2="1214" y2="285.7" stroke="url(#v5)" stroke-width="3.4"/><line x1="1214" y1="285.7" x2="1234" y2="271.7" stroke="url(#v6)" stroke-width="3.4"/><line x1="1234" y1="271.7" x2="1254" y2="222.9" stroke="url(#v7)" stroke-width="3.4"/><line x1="1254" y1="222.9" x2="1274" y2="207.4" stroke="url(#v8)" stroke-width="3.4"/><line x1="1274" y1="207.4" x2="1294" y2="284.2" stroke="url(#v9)" stroke-width="3.4"/><line x1="1294" y1="284.2" x2="1314" y2="212.8" stroke="url(#v10)" stroke-width="3.4"/><line x1="1314" y1="212.8" x2="1334" y2="254.3" stroke="url(#v11)" stroke-width="3.4"/><line x1="1334" y1="254.3" x2="1354" y2="257.9" stroke="url(#v12)" stroke-width="3.4"/><line x1="1354" y1="257.9" x2="1374" y2="181.7" stroke="url(#v13)" stroke-width="3.4"/><line x1="1374" y1="181.7" x2="1394" y2="281.2" stroke="url(#v14)" stroke-width="3.4"/><line x1="1394" y1="281.2" x2="1414" y2="270.8" stroke="url(#v15)" stroke-width="3.4"/><line x1="1414" y1="270.8" x2="1434" y2="245.4" stroke="url(#v16)" stroke-width="3.4"/><line x1="1434" y1="245.4" x2="1454" y2="195.1" stroke="url(#v17)" stroke-width="3.4"/><line x1="1454" y1="195.1" x2="1474" y2="248.9" stroke="url(#v18)" stroke-width="3.4"/><line x1="1474" y1="248.9" x2="1494" y2="284.2" stroke="url(#v19)" stroke-width="3.4"/><line x1="1494" y1="284.2" x2="1514" y2="284.8" stroke="url(#v20)" stroke-width="3.4"/><line x1="1514" y1="284.8" x2="1534" y2="284.2" stroke="url(#v21)" stroke-width="3.4"/><line x1="1534" y1="284.2" x2="1554" y2="262" stroke="url(#v22)" stroke-width="3.4"/></g><rect x="1441" y="261.8" width="95" height="28.8" rx="3.5" fill="#8c8c8c" fill-opacity="0.78"/><text x="1488.5" y="283" font-size="18.5" letter-spacing="0.5" font-weight="bold" text-anchor="middle" fill="#fff" font-family="Liberation Sans, sans-serif">&gt;2 nulls</text><text transform="translate(1120.6 303.5) rotate(-90)" font-size="18.9" text-anchor="end" fill="#6e6e6e" font-family="Liberation Sans, sans-serif">Africa</text><text transform="translate(1160.6 303.5) rotate(-90)" font-size="18.9" text-anchor="end" fill="#6e6e6e" font-family="Liberation Sans, sans-serif">Algeria</text><text transform="translate(1200.6 303.5) rotate(-90)" font-size="18.9" text-anchor="end" fill="#6e6e6e" font-family="Liberation Sans, sans-serif">Angola</text><text transform="translate(1240.6 303.5) rotate(-90)" font-size="18.9" text-anchor="end" fill="#6e6e6e" font-family="Liberation Sans, sans-serif">Antigu..</text><text transform="translate(1280.6 303.5) rotate(-90)" font-size="18.9" text-anchor="end" fill="#6e6e6e" font-family="Liberation Sans, sans-serif">Armen..</text><text transform="translate(1320.6 303.5) rotate(-90)" font-size="18.9" text-anchor="end" fill="#6e6e6e" font-family="Liberation Sans, sans-serif">Austria</text><text transform="translate(1360.6 303.5) rotate(-90)" font-size="18.9" text-anchor="end" fill="#6e6e6e" font-family="Liberation Sans, sans-serif">Baha..</text><text transform="translate(1400.6 303.5) rotate(-90)" font-size="18.9" text-anchor="end" fill="#6e6e6e" font-family="Liberation Sans, sans-serif">Bangl..</text><text transform="translate(1440.6 303.5) rotate(-90)" font-size="18.9" text-anchor="end" fill="#6e6e6e" font-family="Liberation Sans, sans-serif">Belarus</text><text transform="translate(1480.6 303.5) rotate(-90)" font-size="18.9" text-anchor="end" fill="#6e6e6e" font-family="Liberation Sans, sans-serif">Belize</text><text transform="translate(1520.6 303.5) rotate(-90)" font-size="18.9" text-anchor="end" fill="#6e6e6e" font-family="Liberation Sans, sans-serif">Bermu..</text><rect x="1084.4" y="370" width="457.6" height="24" fill="#f0f0f0"/><rect x="1110" y="370.5" width="50" height="23" fill="#c9c9c9"/><path d="M1100.3 376.8L1094.3 381.9L1100.3 387" fill="none" stroke="#404040" stroke-width="2"/><path d="M1525.7 376.8L1531.7 381.9L1525.7 387" fill="none" stroke="#404040" stroke-width="2"/><line x1="1185.4" y1="450.5" x2="1185.4" y2="725.8" stroke="#ececec"/><line x1="1238.7" y1="450.5" x2="1238.7" y2="725.8" stroke="#ececec"/><line x1="1291.9" y1="450.5" x2="1291.9" y2="725.8" stroke="#ececec"/><line x1="1345.2" y1="450.5" x2="1345.2" y2="725.8" stroke="#ececec"/><line x1="1398.5" y1="450.5" x2="1398.5" y2="725.8" stroke="#ececec"/><line x1="1451.8" y1="450.5" x2="1451.8" y2="725.8" stroke="#ececec"/><line x1="1505.1" y1="450.5" x2="1505.1" y2="725.8" stroke="#ececec"/><line x1="1558.3" y1="450.5" x2="1558.3" y2="725.8" stroke="#ececec"/><line x1="1106.5" y1="652.7" x2="1586" y2="652.7" stroke="#ececec"/><line x1="1106.5" y1="597.6" x2="1586" y2="597.6" stroke="#ececec"/><line x1="1106.5" y1="542.5" x2="1586" y2="542.5" stroke="#ececec"/><line x1="1106.5" y1="487.4" x2="1586" y2="487.4" stroke="#ececec"/><line x1="1106.5" y1="450.5" x2="1106.5" y2="725.8" stroke="#ececec"/><line x1="1106.5" y1="725.8" x2="1586" y2="725.8" stroke="#ececec"/><line x1="1132.1" y1="450.5" x2="1132.1" y2="725.8" stroke="#c4c4c4" stroke-dasharray="1 3"/><line x1="1106.5" y1="707.8" x2="1586" y2="707.8" stroke="#c4c4c4" stroke-dasharray="1 3"/><text x="1099" y="714.0" font-size="17.8" text-anchor="end" fill="#787878" font-family="Liberation Sans, sans-serif">0</text><text x="1099" y="658.9" font-size="17.8" text-anchor="end" fill="#787878" font-family="Liberation Sans, sans-serif">20</text><text x="1099" y="603.8" font-size="17.8" text-anchor="end" fill="#787878" font-family="Liberation Sans, sans-serif">40</text><text x="1099" y="548.7" font-size="17.8" text-anchor="end" fill="#787878" font-family="Liberation Sans, sans-serif">60</text><text x="1099" y="493.6" font-size="17.8" text-anchor="end" fill="#787878" font-family="Liberation Sans, sans-serif">80</text><text x="1132.1" y="753.7" font-size="17.8" text-anchor="middle" fill="#787878" font-family="Liberation Sans, sans-serif">0</text><text x="1185.4" y="753.7" font-size="17.8" text-anchor="middle" fill="#787878" font-family="Liberation Sans, sans-serif">2</text><text x="1238.7" y="753.7" font-size="17.8" text-anchor="middle" fill="#787878" font-family="Liberation Sans, sans-serif">4</text><text x="1291.9" y="753.7" font-size="17.8" text-anchor="middle" fill="#787878" font-family="Liberation Sans, sans-serif">6</text><text x="1345.2" y="753.7" font-size="17.8" text-anchor="middle" fill="#787878" font-family="Liberation Sans, sans-serif">8</text><text x="1398.5" y="753.7" font-size="17.8" text-anchor="middle" fill="#787878" font-family="Liberation Sans, sans-serif">10</text><text x="1451.8" y="753.7" font-size="17.8" text-anchor="middle" fill="#787878" font-family="Liberation Sans, sans-serif">12</text><text x="1505.1" y="753.7" font-size="17.8" text-anchor="middle" fill="#787878" font-family="Liberation Sans, sans-serif">14</text><text x="1558.3" y="753.7" font-size="17.8" text-anchor="middle" fill="#787878" font-family="Liberation Sans, sans-serif">16</text><text transform="translate(1055 585.5) rotate(-90)" font-size="18" fill="#333" stroke="#333" stroke-width="0.5" letter-spacing="0.38" text-anchor="middle" font-family="Liberation Sans, sans-serif">Max. Vaccination Rate</text><text x="1346" y="783.3" font-size="18" fill="#333" stroke="#333" stroke-width="0.5" text-anchor="middle" font-family="Liberation Sans, sans-serif">Max. Case Rate</text><g fill="none" stroke-width="1.8"><defs><clipPath id="sc"><rect x="1106.5" y="450.5" width="479.5" height="275.29999999999995"/></clipPath></defs><g clip-path="url(#sc)"><line x1="1106.5" y1="704.7" x2="1586" y2="671.7" stroke="#8a8a8a" stroke-width="2"/><circle cx="1132.2" cy="467.3" r="4.5" stroke="#a9d3ee" stroke-opacity="0.9"/><circle cx="1132.2" cy="609.0" r="4.5" stroke="#a9d3ee" stroke-opacity="0.9"/><circle cx="1132.2" cy="630.8" r="4.5" stroke="#2c5d8f" stroke-opacity="0.85"/><circle cx="1132.2" cy="645.7" r="4.5" stroke="#a9d3ee" stroke-opacity="0.9"/><circle cx="1132.2" cy="657.8" r="4.5" stroke="#a9d3ee" stroke-opacity="0.9"/><circle cx="1132.2" cy="673.7" r="4.5" stroke="#a9d3ee" stroke-opacity="0.9"/><circle cx="1132.2" cy="684.8" r="4.5" stroke="#3f74a6" stroke-opacity="0.85"/><circle cx="1132.2" cy="696.2" r="4.5" stroke="#a9d3ee" stroke-opacity="0.9"/><circle cx="1132.2" cy="699.4" r="4.5" stroke="#a9d3ee" stroke-opacity="0.9"/><circle cx="1132.2" cy="701.7" r="4.5" stroke="#7fb2d8" stroke-opacity="0.85"/><circle cx="1159.5" cy="683.0" r="4.5" stroke="#2c5d8f" stroke-opacity="0.85"/><circle cx="1167.9" cy="677.9" r="4.5" stroke="#2c5d8f" stroke-opacity="0.85"/><circle cx="1181.0" cy="685.6" r="4.5" stroke="#2c5d8f" stroke-opacity="0.85"/><circle cx="1181.7" cy="693.0" r="4.5" stroke="#2c5d8f" stroke-opacity="0.85"/><circle cx="1205.9" cy="689.0" r="4.5" stroke="#2c5d8f" stroke-opacity="0.85"/><circle cx="1205.9" cy="697.0" r="4.5" stroke="#2c5d8f" stroke-opacity="0.85"/><circle cx="1215.9" cy="697.8" r="4.5" stroke="#2c5d8f" stroke-opacity="0.85"/><circle cx="1227.0" cy="691.7" r="4.5" stroke="#2c5d8f" stroke-opacity="0.85"/><circle cx="1231.7" cy="694.9" r="4.5" stroke="#2c5d8f" stroke-opacity="0.85"/><circle cx="1241.0" cy="687.8" r="4.5" stroke="#2c5d8f" stroke-opacity="0.85"/><circle cx="1248.7" cy="683.8" r="4.5" stroke="#2c5d8f" stroke-opacity="0.85"/><circle cx="1246.8" cy="695.9" r="4.5" stroke="#2c5d8f" stroke-opacity="0.85"/><circle cx="1260.8" cy="646.7" r="4.5" stroke="#2c5d8f" stroke-opacity="0.85"/><circle cx="1278.9" cy="646.7" r="4.5" stroke="#2c5d8f" stroke-opacity="0.85"/><circle cx="1292.9" cy="645.7" r="4.5" stroke="#2c5d8f" stroke-opacity="0.85"/><circle cx="1261.9" cy="692.7" r="4.5" stroke="#2c5d8f" stroke-opacity="0.85"/><circle cx="1269.8" cy="688.7" r="4.5" stroke="#2c5d8f" stroke-opacity="0.85"/><circle cx="1284.1" cy="692.7" r="4.5" stroke="#2c5d8f" stroke-opacity="0.85"/><circle cx="1296.0" cy="690.6" r="4.5" stroke="#2c5d8f" stroke-opacity="0.85"/><circle cx="1304.0" cy="682.7" r="4.5" stroke="#2c5d8f" stroke-opacity="0.85"/><circle cx="1309.8" cy="668.9" r="4.5" stroke="#2c5d8f" stroke-opacity="0.85"/><circle cx="1324.6" cy="675.6" r="4.5" stroke="#2c5d8f" stroke-opacity="0.85"/><circle cx="1309.5" cy="693.3" r="4.5" stroke="#2c5d8f" stroke-opacity="0.85"/><circle cx="1321.4" cy="689.0" r="4.5" stroke="#2c5d8f" stroke-opacity="0.85"/><circle cx="1327.8" cy="693.8" r="4.5" stroke="#2c5d8f" stroke-opacity="0.85"/><circle cx="1341.3" cy="694.6" r="4.5" stroke="#2c5d8f" stroke-opacity="0.85"/><circle cx="1341.3" cy="697.0" r="4.5" stroke="#2c5d8f" stroke-opacity="0.85"/><circle cx="1350.0" cy="688.3" r="4.5" stroke="#2c5d8f" stroke-opacity="0.85"/><circle cx="1352.4" cy="697.8" r="4.5" stroke="#2c5d8f" stroke-opacity="0.85"/><circle cx="1357.0" cy="692.0" r="4.5" stroke="#2c5d8f" stroke-opacity="0.85"/><circle cx="1250.5" cy="597.0" r="4.5" stroke="#2c5d8f" stroke-opacity="0.85"/><circle cx="1388.9" cy="551.9" r="4.5" stroke="#2c5d8f" stroke-opacity="0.85"/><circle cx="1371.9" cy="650.5" r="4.5" stroke="#2c5d8f" stroke-opacity="0.85"/><circle cx="1381.9" cy="652.9" r="4.5" stroke="#2c5d8f" stroke-opacity="0.85"/><circle cx="1379.8" cy="662.0" r="4.5" stroke="#2c5d8f" stroke-opacity="0.85"/><circle cx="1518.7" cy="659.9" r="4.5" stroke="#2c5d8f" stroke-opacity="0.85"/><circle cx="1522.0" cy="691.3" r="4.5" stroke="#2c5d8f" stroke-opacity="0.85"/><circle cx="1400.7" cy="694.7" r="4.5" stroke="#2c5d8f" stroke-opacity="0.85"/><circle cx="1418.0" cy="691.9" r="4.5" stroke="#2c5d8f" stroke-opacity="0.85"/><circle cx="1342.6" cy="694.0" r="4.5" stroke="#2c5d8f" stroke-opacity="0.85"/><circle cx="1349.7" cy="688.7" r="4.5" stroke="#2c5d8f" stroke-opacity="0.85"/><circle cx="1353.0" cy="697.9" r="4.5" stroke="#2c5d8f" stroke-opacity="0.85"/><circle cx="1358.3" cy="692.6" r="4.5" stroke="#2c5d8f" stroke-opacity="0.85"/><circle cx="1528.0" cy="706.0" r="4.5" stroke="#2c5d8f" stroke-opacity="0.85"/><circle cx="1561.0" cy="703.0" r="4.5" stroke="#2c5d8f" stroke-opacity="0.85"/><circle cx="1130.2" cy="707.2" r="4.5" stroke="#2c5d8f" stroke-opacity="0.85"/><circle cx="1131.7" cy="707.0" r="4.5" stroke="#2c5d8f" stroke-opacity="0.85"/><circle cx="1133.7" cy="707.4" r="4.5" stroke="#2c5d8f" stroke-opacity="0.85"/><circle cx="1135.7" cy="707.0" r="4.5" stroke="#2c5d8f" stroke-opacity="0.85"/><circle cx="1137.8" cy="706.9" r="4.5" stroke="#2c5d8f" stroke-opacity="0.85"/><circle cx="1139.7" cy="707.4" r="4.5" stroke="#2c5d8f" stroke-opacity="0.85"/><circle cx="1141.6" cy="708.3" r="4.5" stroke="#2c5d8f" stroke-opacity="0.85"/><circle cx="1143.7" cy="708.1" r="4.5" stroke="#2c5d8f" stroke-opacity="0.85"/><circle cx="1146.0" cy="708.0" r="4.5" stroke="#2c5d8f" stroke-opacity="0.85"/><circle cx="1147.6" cy="707.2" r="4.5" stroke="#2c5d8f" stroke-opacity="0.85"/><circle cx="1150.0" cy="707.7" r="4.5" stroke="#2c5d8f" stroke-opacity="0.85"/><circle cx="1152.4" cy="707.2" r="4.5" stroke="#2c5d8f" stroke-opacity="0.85"/><circle cx="1154.8" cy="707.1" r="4.5" stroke="#2c5d8f" stroke-opacity="0.85"/><circle cx="1157.1" cy="707.0" r="4.5" stroke="#2c5d8f" stroke-opacity="0.85"/><circle cx="1159.5" cy="707.1" r="4.5" stroke="#2c5d8f" stroke-opacity="0.85"/><circle cx="1161.9" cy="708.3" r="4.5" stroke="#2c5d8f" stroke-opacity="0.85"/><circle cx="1166.7" cy="708.1" r="4.5" stroke="#2c5d8f" stroke-opacity="0.85"/><circle cx="1169.0" cy="708.1" r="4.5" stroke="#2c5d8f" stroke-opacity="0.85"/><circle cx="1171.4" cy="708.1" r="4.5" stroke="#2c5d8f" stroke-opacity="0.85"/><circle cx="1174.6" cy="707.1" r="4.5" stroke="#2c5d8f" stroke-opacity="0.85"/><circle cx="1177.0" cy="707.3" r="4.5" stroke="#2c5d8f" stroke-opacity="0.85"/><circle cx="1179.4" cy="707.8" r="4.5" stroke="#2c5d8f" stroke-opacity="0.85"/><circle cx="1181.7" cy="708.0" r="4.5" stroke="#2c5d8f" stroke-opacity="0.85"/><circle cx="1184.1" cy="708.2" r="4.5" stroke="#2c5d8f" stroke-opacity="0.85"/><circle cx="1186.5" cy="708.2" r="4.5" stroke="#2c5d8f" stroke-opacity="0.85"/><circle cx="1188.9" cy="706.9" r="4.5" stroke="#2c5d8f" stroke-opacity="0.85"/><circle cx="1192.1" cy="707.8" r="4.5" stroke="#2c5d8f" stroke-opacity="0.85"/><circle cx="1194.4" cy="707.9" r="4.5" stroke="#2c5d8f" stroke-opacity="0.85"/><circle cx="1196.8" cy="707.6" r="4.5" stroke="#2c5d8f" stroke-opacity="0.85"/><circle cx="1199.2" cy="707.1" r="4.5" stroke="#2c5d8f" stroke-opacity="0.85"/><circle cx="1201.6" cy="707.6" r="4.5" stroke="#2c5d8f" stroke-opacity="0.85"/><circle cx="1215.9" cy="706.9" r="4.5" stroke="#2c5d8f" stroke-opacity="0.85"/><circle cx="1218.3" cy="708.3" r="4.5" stroke="#2c5d8f" stroke-opacity="0.85"/><circle cx="1220.6" cy="708.2" r="4.5" stroke="#2c5d8f" stroke-opacity="0.85"/><circle cx="1244.4" cy="707.7" r="4.5" stroke="#2c5d8f" stroke-opacity="0.85"/><circle cx="1250.0" cy="707.3" r="4.5" stroke="#2c5d8f" stroke-opacity="0.85"/><circle cx="1263.5" cy="708.3" r="4.5" stroke="#2c5d8f" stroke-opacity="0.85"/><circle cx="1268.3" cy="707.7" r="4.5" stroke="#2c5d8f" stroke-opacity="0.85"/><circle cx="1273.0" cy="708.2" r="4.5" stroke="#2c5d8f" stroke-opacity="0.85"/><circle cx="1277.8" cy="708.2" r="4.5" stroke="#2c5d8f" stroke-opacity="0.85"/><circle cx="1284.1" cy="707.6" r="4.5" stroke="#2c5d8f" stroke-opacity="0.85"/><circle cx="1289.7" cy="707.5" r="4.5" stroke="#2c5d8f" stroke-opacity="0.85"/><circle cx="1303.2" cy="707.8" r="4.5" stroke="#2c5d8f" stroke-opacity="0.85"/><circle cx="1323.0" cy="707.5" r="4.5" stroke="#2c5d8f" stroke-opacity="0.85"/><circle cx="1146.8" cy="701.7" r="4.5" stroke="#2c5d8f" stroke-opacity="0.85"/><circle cx="1170.6" cy="701.7" r="4.5" stroke="#2c5d8f" stroke-opacity="0.85"/><circle cx="1195.2" cy="702.5" r="4.5" stroke="#2c5d8f" stroke-opacity="0.85"/><circle cx="1203.2" cy="701.0" r="4.5" stroke="#2c5d8f" stroke-opacity="0.85"/><circle cx="1261.9" cy="703.3" r="4.5" stroke="#2c5d8f" stroke-opacity="0.85"/><circle cx="1272.2" cy="702.5" r="4.5" stroke="#2c5d8f" stroke-opacity="0.85"/><circle cx="1277.8" cy="703.3" r="4.5" stroke="#2c5d8f" stroke-opacity="0.85"/><circle cx="1282.5" cy="704.1" r="4.5" stroke="#2c5d8f" stroke-opacity="0.85"/><circle cx="1298.4" cy="701.0" r="4.5" stroke="#2c5d8f" stroke-opacity="0.85"/><circle cx="1302.4" cy="704.1" r="4.5" stroke="#2c5d8f" stroke-opacity="0.85"/><circle cx="1317.5" cy="700.2" r="4.5" stroke="#2c5d8f" stroke-opacity="0.85"/><circle cx="1323.0" cy="702.5" r="4.5" stroke="#2c5d8f" stroke-opacity="0.85"/><circle cx="1138.9" cy="707.0" r="4.5" stroke="#a9d3ee" stroke-opacity="0.9"/><circle cx="1142.9" cy="707.3" r="4.5" stroke="#a9d3ee" stroke-opacity="0.9"/><circle cx="1163.5" cy="707.6" r="4.5" stroke="#a9d3ee" stroke-opacity="0.9"/><circle cx="1226.2" cy="707.0" r="4.5" stroke="#a9d3ee" stroke-opacity="0.9"/><circle cx="1311.1" cy="707.6" r="4.5" stroke="#a9d3ee" stroke-opacity="0.9"/><circle cx="1257.1" cy="700.2" r="4.5" stroke="#a9d3ee" stroke-opacity="0.9"/><circle cx="1188.9" cy="707.0" r="4.5" stroke="#a9d3ee" stroke-opacity="0.9"/></g></g><rect x="1500" y="690" width="81" height="29.8" rx="3.5" fill="#8c8c8c" fill-opacity="0.72"/><text x="1540.5" y="711.5" font-size="18.5" letter-spacing="0.4" font-weight="bold" text-anchor="middle" fill="#fff" font-family="Liberation Sans, sans-serif">2 nulls</text></svg></body></html>
